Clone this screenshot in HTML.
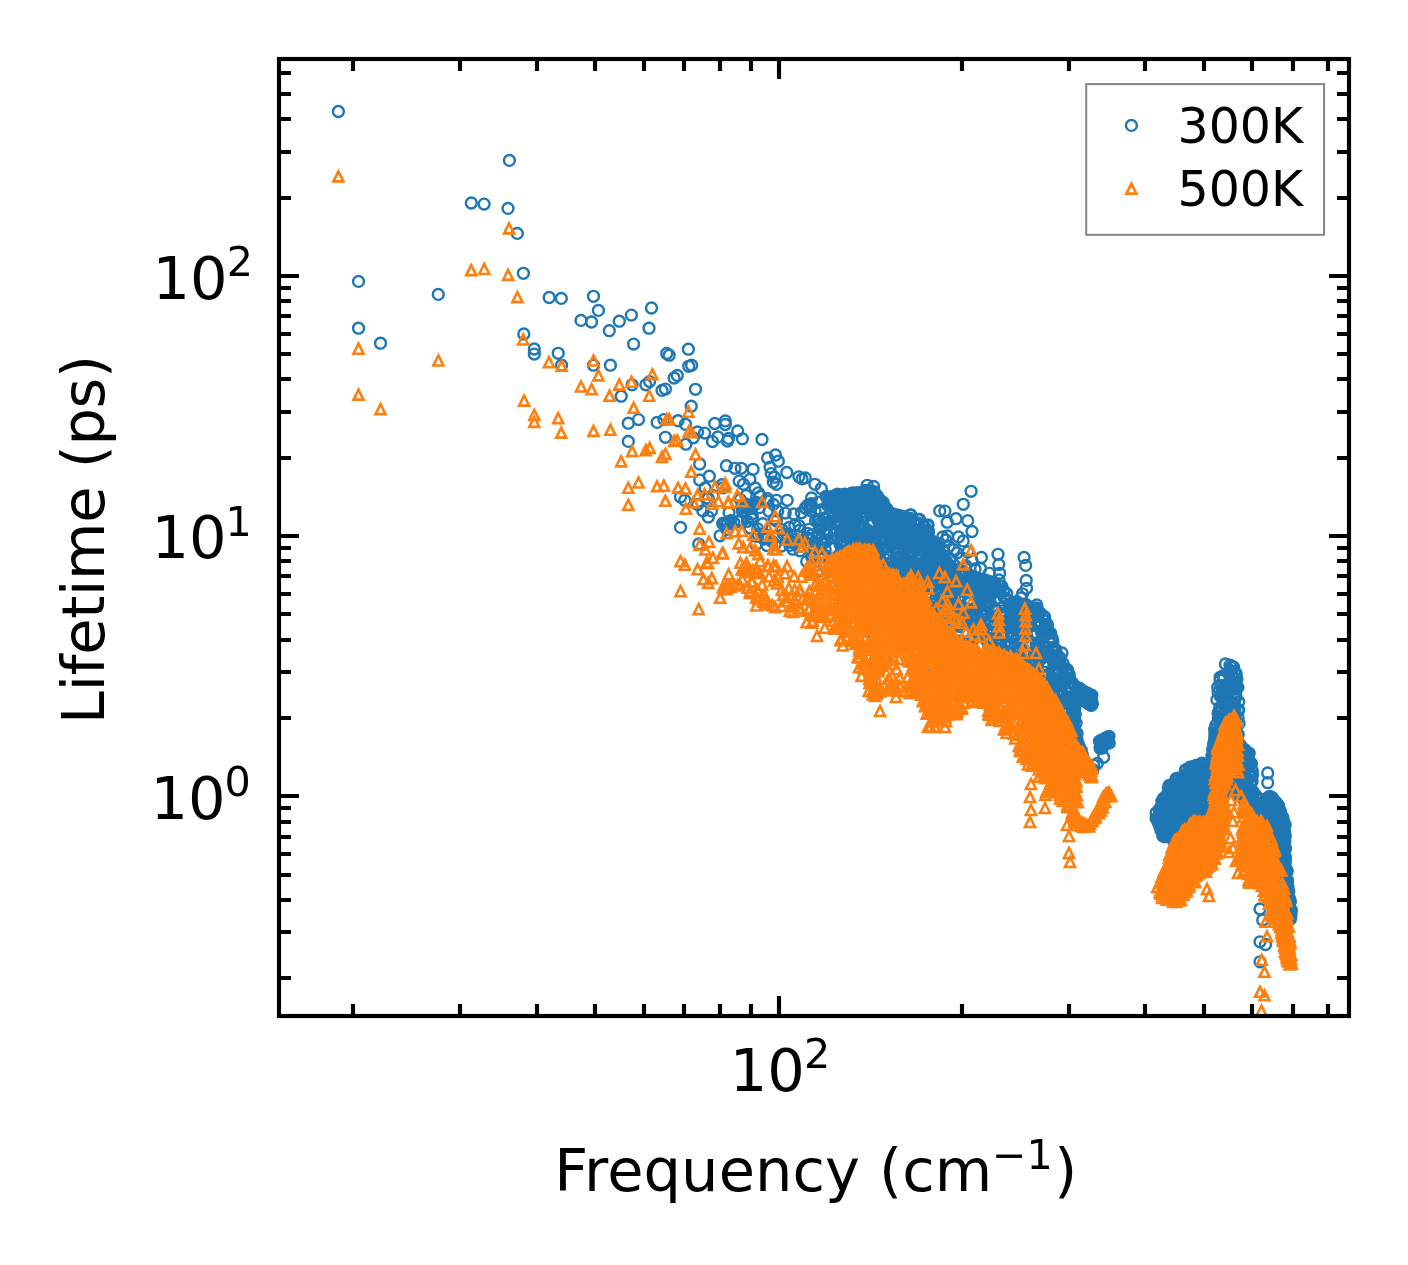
<!DOCTYPE html>
<html lang="en"><head><meta charset="utf-8"><title>Phonon lifetime vs frequency</title>
<style>html,body{margin:0;padding:0;background:#fff}svg{display:block}text{font-family:"DejaVu Sans", "Liberation Sans", sans-serif;fill:#000}</style></head><body>
<svg width="1408" height="1265" viewBox="0 0 1408 1265">
<rect width="1408" height="1265" fill="#fff"/>
<defs><clipPath id="ax"><rect x="279.0" y="59.0" width="1070.0" height="957.0"/></clipPath></defs>
<defs><marker id="mc" markerUnits="userSpaceOnUse" markerWidth="20" markerHeight="20" refX="10" refY="10" overflow="visible"><circle cx="10" cy="10" r="5.45" fill="none" stroke="#1f77b4" stroke-width="2.4"/></marker><marker id="mt" markerUnits="userSpaceOnUse" markerWidth="20" markerHeight="20" refX="10" refY="10" overflow="visible"><path d="M10 5.0L5.0 15.0H15.0Z" fill="none" stroke="#ff7f0e" stroke-width="2.6" stroke-linejoin="miter"/></marker></defs>
<g clip-path="url(#ax)" fill="none" stroke="none">
<polyline marker-start="url(#mc)" marker-mid="url(#mc)" marker-end="url(#mc)" points="338.4,111.5 509.4,160.4 471.3,203 484.1,204.1 508,208.4 517.3,233.4 523.4,273.3 358.5,281.4 438.3,294.4 549.2,297.5 561.3,298.4 593.5,296.3 598.4,310.4 581,320.4 591.5,322 619.3,321.2 631.4,315.1 651.5,308 358.5,328.2 523.8,334 609.3,330.7 649,328.2 380.5,343.2 534.3,349 534.3,354.1 558.2,353.3 561.6,365.2 633.6,344.1 593.5,365.2 610.4,365.2 666.7,353.5 669.2,355.2 688.4,349.2 688.7,366.3 691.6,365.2 674.1,378 677.3,375.5 632.1,384.8 645.8,384.8 649.6,381.6 662,390.4 665.4,389.1 621.2,396.2 695.5,389.3 691.2,406.2 628.3,423.2 638.5,419.6 657.1,422.4 663.9,419.6 678,420.7 685.5,424.3 628.3,441.4 665.4,437.3 685.9,444.2 693.3,437.8 697.6,432 699.7,464 699.7,480 680.5,497.1 684.8,500.3 697.6,504.5 680.5,527.4 698.7,544 704.6,433.1 714.7,423.5 725.3,420.9 725.3,424.5 737.7,430.9 742.4,438.8 728.5,438.4 727.5,441 717.9,436.9 712.5,441.6 762,439.5 775.5,455 767.6,458 778.3,461.2 770.1,467.2 786.8,472.5 771.2,473.6 774.4,477.2 773.3,482.1 776.5,484.3 726.4,465.7 734.9,468.3 741.3,468.3 753.1,469.3 709.3,476.2 722.1,484.7 739.2,481.1 749.9,479.4 743.5,484.3 755.2,487.9 758.4,492.8 705.1,487.9 702.9,510.9 711.5,510.9 756.3,502.4 768,501.3 776.5,500.3 787.2,500.3 742.4,510.9 752,514.1 759.5,507.7 726.4,524.8 733.9,522.7 738.1,521.6 749.9,528 762.7,523.7 798.9,476.8 802.1,478.9 805.3,477.9 814.9,484.3 821.3,488.5 867.2,485.3 873.6,486.4 883.2,502.4 911,515.2 919.5,519.5 928,524.8 925.9,537.6 936.5,542.9 939.7,510.9 944.9,511.1 963.3,504.3 971.1,491.3 967.7,520.7 972,531.5 956,518.7 947.2,522.2 910.3,514.8 918.2,519.5 927.7,525.8 926.1,537.7 942.7,537 947.4,536 945.8,540 958.5,537 963.2,540.9 949,546.4 953.8,549.6 957,553 962,558 968,552 972,560 944,552 950,559 966,566 975,569 981.4,557.5 980.6,568.5 989.3,573.3 998,554.3 998.8,564.6 999.6,573.3 999,580 1024.1,557.5 1025.7,565.4 1026.2,580.4 1026.5,588.3 1022.5,593.8 1017,601.7 1021,598 1036.8,604.9 1039,612 1062,653 1044.8,634.8 986,615.3 912.9,538.4 960.4,572.6 900.7,579.7 802.5,536.9 907.3,547.6 878.3,576.9 925.1,541.1 792.9,549.2 979.1,606.5 895.4,612.7 997.2,638.2 1015.9,602.7 864.2,492.9 1025.7,611.8 1017.9,616 889,512.3 842.7,498.3 867.3,542.6 897.8,626.9 881.7,601.2 840.5,522.3 938.9,607.7 909.4,555.4 910.5,520.8 973.7,624.4 896.5,597 888.1,594.1 850,529.3 824.6,566.3 1057.6,662.5 869.2,492.9 870.1,501.3 1003.7,591.6 948.5,571.2 939.8,651.7 999.8,642 758.2,534.4 1011,631.2 849.2,503.2 872.9,628.1 984.3,611.4 1037.9,695.7 844.9,494.1 1049.4,713.2 899.8,539.9 982.8,594.8 886,553.5 943.9,605.4 931.7,610.7 781.5,546.1 986.3,583.5 906.3,525.5 941.7,565.9 875.6,545.4 764.8,534.2 1016.3,616.8 850.8,532.5 982.1,591.3 966.8,608.5 936.2,603.2 1067.3,713.2 1050.5,638.1 911.6,580.1 878.4,516.5 909.7,540.2 841.1,511 965.1,610.7 757.7,528.9 887.3,563.4 888.3,512.9 874.5,549.5 1011,616.4 1046.1,691.6 851.6,516.3 747.1,506.1 1069.5,678.5 930.5,573.1 1027.8,645.1 842.4,500.3 814.6,547.8 972.4,578 892.7,561.3 969.5,603 887.5,526.1 776.4,521.1 964.9,579.3 842.6,543 977.6,597.1 879,599.9 1052.9,641.6 1055.9,721.2 1018.5,609.7 1066.1,721.1 853.8,495.2 902.1,560.1 783.4,533.9 932.2,576.3 844.2,551.1 1022.5,621.6 1054.9,661.5 868.3,497.6 892,515.5 851.6,493.1 855.7,582 1056.2,658.8 989.4,604.1 899.8,538.5 867,494 1051.8,679.4 863.6,556.9 909.9,622.5 994.9,600.8 848.6,502.9 851.6,522.3 880.6,591.9 977.4,609.1 940.9,629.4 948.5,574.6 883.2,612.3 918.5,553.1 844,518.9 948.5,579.2 930.1,664.9 1049.2,632.7 1023.7,670.6 868,493.7 964.9,621.1 843.5,494.4 877.6,594.7 885.1,600.9 752.9,505.9 963,571.5 903.2,521.6 891.2,544.9 933.4,635.6 983.2,589.8 1055.5,664 755.9,544.8 924.1,621.6 835.4,499 844,513.2 890.1,557.1 879,499.4 908.4,518.3 948.4,584.1 891.6,537.3 879.9,527.8 1054.9,717.6 899.2,515.3 1011.6,623.2 938.1,606.9 1023.8,635.2 914.8,522.7 810,504.9 1057.3,684.6 789.1,527.4 938.4,563.4 1015.4,628 839.8,504.1 889,588.9 895.2,626.3 1019.5,651 1035.9,632.8 944.8,583.8 983.3,585.5 896.2,531.9 1025.8,693.7 841.9,495.5 1066.7,707.8 947.5,605.9 865.3,490.3 1039.3,623.9 893.8,597.6 1018.9,681.7 1042.8,615.7 871.8,547.6 1001.3,634.4 1058.6,699.8 852.5,523.6 1059.9,692.8 890,515.9 852.3,495.9 992.1,592.6 914.7,626.8 892.1,570.1 913,546.9 847.3,537.9 1068.4,747.2 926,621.2 1042,696.9 1020.3,648.2 786.7,539.6 874.3,491.6 918,522.9 980.8,630.1 949.9,628.9 890,598.2 866.3,563.8 853,514.7 1042.9,700.1 1047.5,651.2 859.4,594.5 1060.6,733.8 897.6,524.1 1052.8,688.8 1053.1,693.5 1072,718.3 1026.4,691.2 913.4,617 910,623 742.1,508.2 749.9,507.5 845.4,501.4 988.8,653.3 740.3,499.4 1050.6,710.3 840.3,553.6 838.1,508.7 845.3,529.5 911.7,576.5 1036.1,644.3 859.2,494.5 866.1,532 987,632.8 999.3,621.7 952.2,610.1 994.7,622.5 834,506.2 866.3,515.5 1029.9,616.1 1055.9,649.7 911.8,582.7 1006.7,593.5 942.6,560.1 905.8,529.9 843.8,510.9 915,564.1 894.9,514.4 723,487.8 935.6,548.8 938.4,628.5 1049.7,696.3 1044.5,616.8 1022,604.2 1039.2,713.2 1037.1,610.2 903.6,551.7 1006.1,655.2 1032.7,617 820.5,510 983.8,585.9 966.1,613 970,575.3 775,544.4 921.6,534.3 923.1,616.9 867.6,495.5 1050.7,655.3 916.8,535.7 874.5,602.6 1021.2,613.8 997.4,648.7 910.9,629.4 840.2,559.1 1034,616.1 853,559.9 987.8,630.1 839.3,503 935.5,561.7 883.1,521.6 949.3,570.5 858.1,583.3 875.2,547 1054.7,702.5 916.8,571 932.3,541.1 925.9,532.6 886,515.6 1031.2,663.7 884.7,521.6 850.3,515.2 1052.7,716.3 1038.8,707.6 1002.5,610.8 894.3,609.2 951.6,580.3 837.4,494.2 989.5,591.1 851.5,505.3 822.9,542.8 1059.6,657.9 909.6,545.1 910.5,518.4 1024.8,605.4 912.7,601.5 867.3,533.7 937.7,605.7 841.8,535.6 973.5,577.9 1067.1,726.9 928.9,645.9 857.5,563.8 1069.1,674.6 854.2,526.3 1045.7,630.1 1018.9,683.4 969.2,575.3 1026.3,617.9 1069.9,699.4 854.9,522 940.4,621.7 864.8,538.6 818.2,502.3 937.1,554.4 879.8,527.3 876.2,507.8 886.8,546.7 1062.7,667.8 861,494 916.2,577.8 935.3,614.7 949.4,603.8 751.9,518.9 864.3,562.8 974.5,619.7 868.2,490.4 1038.4,673.2 1022.9,662.2 942.6,559.2 765.9,538.5 959,641.2 1007.3,599.4 1038.8,622.9 1067.2,669.5 1037.1,678.1 930.8,582.6 870.2,514 855.9,516.3 853.2,537 927.4,551.6 895.2,621.7 1059.9,735 859,587.4 896.3,517.5 1062.4,667.9 853.5,509 1017.4,634.8 845,516.6 965.2,588.9 880.1,593.2 1034.4,653.9 1000.6,613.4 903.1,601.6 885.9,517 865.2,561.5 918.1,560.7 910.4,558 1070,719.6 1064.5,683.6 856,499.5 872.2,581.6 870.4,543 873.2,607.6 1026.7,698.7 864.6,502.6 886.8,531.1 878.9,586.9 844.4,506.9 1029,680.5 1060.5,678.3 811.9,555.6 881.4,504.5 1050.2,654.1 933.3,553.5 1056.8,716.6 999.3,585.6 898.1,608.8 1018.3,617.2 903.5,520.4 706.7,498.1 1020.9,610.7 919.6,560.2 853.5,492.9 899.9,599.9 868.9,491.2 946.4,585.9 856,542.4 929,549.9 744.7,503.7 844.5,541.4 990.1,643.6 1044.2,628.2 918.6,554.4 897.8,557.5 1017,672.5 909.5,532.5 879.7,533 874.9,537.4 867.9,492.3 878.3,499.1 760.4,496.2 880.2,624.9 935.1,661.9 871.9,504.8 1012.2,634.3 834.4,534.4 834.9,507.3 850.2,536.4 849.7,496 1000.8,625.9 1033.2,692.9 992.9,638.1 938.3,573.4 920.9,556.2 856.2,565.6 1038,616.1 846.2,502 1070.1,697.4 1024.5,626.2 829,499.8 1035.9,673.2 944.8,565.9 845.6,572.9 769.1,511.2 939.6,554.1 975.4,637.8 885.4,599.4 856.6,493.7 975.8,583.8 993.4,584.7 852.2,507.2 850.1,497.1 899.5,517.8 932.8,557.7 807.7,533.3 992.7,587.2 944.1,560.3 864.6,528.1 1047.1,633.3 1038.6,620.7 909.2,535.4 864.9,511.8 1030.9,645.9 1032.3,644.7 979.7,601 868.3,530.5 894.5,524.3 1064.8,739.3 937.9,562.8 899.3,530.1 926.1,603.8 1043.9,675.9 1059.9,692.1 877,626.7 999.3,589.6 982.8,588.2 914.7,623.3 873.2,541 916,524.9 986.9,590.4 814,551.5 815.5,520.8 970.8,583.9 988.2,582.9 1048.3,674.6 839.9,534.8 912.6,608.5 856.4,579.4 1032.2,614 876.3,554.8 881.7,540.9 935.4,569.6 849.1,503.2 1041.2,658.9 1064,695.1 922.8,550.3 1075.1,686.5 890.6,609.9 983.6,588.5 941.9,556.1 1032.8,608.8 900.6,532.6 740.1,520.2 896.8,516.6 773.3,504.4 906.9,543.6 793.7,543.2 1066.9,732.4 885.4,568.6 881.4,600.2 891.8,528 942.4,603.1 1006.8,621.9 1042.3,636.3 887.9,512.7 1034.9,659.6 889.7,593.5 980.2,593.5 935,655.1 915.6,534.7 1063.2,683.7 907.2,588.4 980.9,635.4 946.4,571.4 926.7,534.5 940.2,576 921.6,535.7 845.1,563.3 967.8,585.4 827.6,505.3 800.4,546.3 1015.2,612.5 767.7,498.7 874.1,597.5 944.7,583.3 945.8,650.2 832.4,518.6 882.6,577.4 946,662 934.2,552.8 851.1,580.6 927.9,534.2 866.6,503.1 1053,704.7 801.4,512.7 915.2,587.5 883.7,520.9 1054.4,701.4 1028.8,664.5 1063.9,712.3 944.3,617.7 861.5,525.9 934.4,613.8 1072.6,699.7 847.7,563.1 899.1,623.3 794.6,539.7 993.9,584.6 929.4,571.5 884.8,507.4 955.7,584.7 1072.5,683 904.9,573.7 839.6,559.5 1016.6,606.2 826.1,496.3 864.2,579.7 875,576.7 978.5,607.5 875.8,513.3 1014.1,672.4 957.9,643 919.3,595.5 918.9,625 987.1,602.4 905.7,581.2 1067.9,693.5 809.1,547.7 960.3,614.3 1022.8,628.3 944.7,567.6 940.6,606.9 880.6,500.4 911.4,563.1 896.5,572.2 903.3,548.2 867,537 869.3,500.4 913.6,572.1 931.5,547 944.2,616.5 1038.3,626.4 931.2,552.2 856.7,555.3 980.7,634.6 928,631.2 929.4,662.2 1011.9,620.1 942,642.8 767,545.6 873.4,535.9 913.3,551.8 947.6,589.5 1047.8,651.7 885.9,541.5 972.9,581.2 827.2,534.3 1042.5,705.6 1068.5,735.9 1044,616.6 977,582.9 1046.3,631.9 825.1,524.4 909.8,520.8 946.2,562.2 919.4,564.7 875,579 905.4,575.7 918.4,537.3 840.6,532.2 819.9,529.3 883.6,517 950.3,607.6 996.1,615.9 829.6,499.5 943.8,559.4 947,574 810.4,510.6 794.9,525.2 953.6,617.2 1038.9,658.4 859.9,534.2 908,557.2 971.1,626.1 880.2,630.8 899.8,570.8 905.7,544.9 831.9,496.9 895.1,530.4 917.7,623.4 885.4,516.4 913.8,536.2 846.7,550.7 1002.8,649.4 849.7,503.9 985,581.6 881.7,528 1019.9,605.6 879.8,561.4 726.7,529.4 1017.7,604.4 909.2,631.9 840.8,574.9 834.3,522.5 918.3,579.7 1038.5,612.3 1045.1,621 861.2,501.1 936.8,562.3 923.2,526.8 885.3,508.7 848.9,539.1 785.2,513.1 1039.6,612.6 895.8,516.2 893.5,517.8 849.9,517.6 827.6,540 1043.5,616.9 980.8,614 1007.6,660.8 922.3,580 852.1,527.3 934.2,563.4 930.2,558.3 930.6,611.8 885.7,595.2 973,610.3 950.6,565.9 976.1,623.5 855.5,518.8 994.9,650.2 837.7,499.5 873.2,504.2 967.5,586.5 987.2,641.3 1036.4,609 912.1,572.6 997,644.9 867,530.4 1046,625 811.2,507 799.8,530.2 966.3,619.1 881.5,514.9 1046.8,624.6 1030.3,617.3 1054.5,684.2 1011.7,606.2 977.8,606.8 906.9,559.9 936,633 1077.1,733.4 928.5,530.9 868.9,494.4 864.6,495.1 1042.9,703.6 918.1,575.8 908,560.7 828.9,521.7 862.8,522.7 1046.3,727.2 991.5,593 891,617.3 878.3,553.9 996.1,591.9 1053.1,650 1074.7,719.7 934.5,590.7 1044.5,699.9 811.5,497.9 912,581.9 904.6,560.1 859.2,500.4 891.6,523 895.8,601 989.3,604.3 1011.5,656.5 870.2,607.4 1074.6,749.6 750,527.9 1031.7,701.2 960.2,626.5 899.4,539.6 956.5,582.1 970.1,625.1 917.6,612.4 1009.8,608.9 832,505.9 858.9,557.6 888.7,533.8 875.1,500.6 1045.4,635.2 990.1,601.7 861.1,536 896.3,570.6 924.2,526.3 893.6,592.9 821.8,542.3 944,603.6 945.8,655.2 870.8,534.1 939.1,658.9 846.8,525.7 1053.5,648.3 851.6,513.2 993,589.6 829.8,497.5 994.4,585.4 905.4,596.9 962.4,619.7 857,573.3 860.6,492.6 962,595.5 923.8,526.4 896.2,602.9 876.4,633.4 949.8,610.4 872.5,616.5 855,544 868.8,627.8 1020.6,686.4 862.6,603.2 1029.7,620.8 827.4,523.3 1022.9,613.4 961.6,579.8 1044.9,651.8 899.2,618.2 931.1,561.7 864.2,495 887.8,511.2 896.6,529.4 864.3,535.6 928,532.9 946.1,645.9 1007.1,623.4 874.7,572 873.6,597.7 1014.1,609.2 903.4,538.6 1050.2,708.3 1074.6,708.8 902,563.7 908.6,626.3 878.1,594.2 1016.8,613.8 1014.6,647.6 854.6,520.9 1062,728.1 791.4,536.1 904.6,527.9 837.8,500.9 913.1,545.7 857.5,557.3 743.9,506.7 862.2,583.9 1060.9,680.9 1052.2,638.5 949.4,574.3 1066.1,670.3 1042.7,706.2 825.3,555.7 930,641.9 962,646.7 876.2,566.5 878.4,521 928,646.1 970.1,575.4 956.2,569.6 873.8,538.4 909,577.6 908.4,596.3 940,598.2 956,593.8 935.6,546.9 856.1,508.3 871.7,500.4 986,595.4 858.8,552.6 862,507.9 866.4,561 990.6,585.3 877.8,499.2 950.4,598.4 906.7,521.9 1020.7,632.9 921.6,570.4 811.9,534.8 993,584.4 923.3,546.4 933.6,608.1 876.9,575 987,580.8 1036.3,651 878.7,609.1 812.6,558 997.1,648.1 925.8,641.8 815,511.2 967.3,633.3 928.6,630.3 981.6,626.2 724.5,523.3 997.2,649.8 863,536 958,586.1 834.4,530.2 1035.2,661.9 843.8,544.1 1035,665 1058.4,673 1007.1,645.3 1004.7,613.6 925.3,641.6 860.4,587.1 1030.3,622.5 964.2,589.7 1060.7,685.1 840.9,509.8 959.7,598.7 868.5,506.8 963.6,616.6 984.7,579.8 1017.2,611.4 834.1,565.8 846.9,580.2 868.9,499 1050,688.6 1063,663.5 982.2,595.1 880.7,531.9 1054.3,722.6 953.2,569.9 1028.1,703.1 994.5,583.5 1047.6,666.5 850.3,542.9 1056.4,658.9 939.1,649.5 939.6,558.6 924.2,534.1 909.9,629.3 870.4,492.1 836.6,523.1 935.2,599.7 894.6,540.8 856.7,540.6 904.1,578.6 886,527.7 968.3,578.2 974.6,578 909,547.4 908.5,520.2 983.6,615.3 741.9,505.6 1003.6,590.7 1065.7,669.8 906.3,520.2 1047.4,627.3 820.2,556.3 864.5,505 914,569.2 878.5,577.7 1000.7,652 1057,700.8 1057.8,706.7 903.9,517.7 869,617.6 825.3,542 881.4,518 915.4,601.7 991.2,657.8 730.6,520.7 917.5,544.1 1045.4,651.4 842.8,561.6 988.2,649.7 984.9,598.6 1051.8,677 1042.9,702.5 911.1,542.5 713,495.7 913,563.9 1005,612.9 978.9,579.2 956.3,603.5 835.1,567.8 868,536 1033.8,660.7 838.7,504.6 1051.4,637.1 805.3,508 877.5,563.8 889.7,512.3 820.9,528.6 941,569.4 1045.8,695.7 886.6,508.5 864.2,516.4 1014.3,620.1 943.8,649.5 897.6,558.8 864.9,542.3 946.9,612 918.5,525.4 989.4,649 1057.9,663.1 885.5,545.7 908.3,544.8 1036.3,648.4 902.3,563.1 937.1,571 998.4,590.5 899.1,600.6 994.6,588.4 892.5,551.3 891.6,520.5 1021,658 916.1,612.2 1015.6,653.1 1042.6,693.7 1067.7,702.7 1022.4,681 922.7,618.9 916,549 927.6,583.2 789.9,545.4 800,550.8 886.7,627 963.5,584.5 841.4,562.2 1055,728.4 817.9,521.2 886.6,617.9 856.7,514.8 860,563.1 1046,661.7 931,636.4 966.1,608.3 934.7,546.1 947.7,640.9 1006.7,670 876.3,601.6 859.6,492.7 805.9,508.3 1016.1,628.7 865.1,578.8 1056.5,680 939.5,594.4 929.2,568 859.4,495.6 1026.9,628.2 860.8,493 782.2,529.8 1050.7,693 907.8,562.5 774.1,519.1 1051.5,650.6 881.1,508 1017.2,605.1 870.4,539.2 808.4,538.2 938.5,570.4 871.9,632.8 933.6,610.3 927.8,639.6 859.6,526.7 855.1,520.1 936.2,639.4 965.5,579.7 890.9,600.4 859,510.4 994.1,585.6 914.7,605.8 971.3,623.5 880.4,517.4 934.4,644.7 876.8,507.9 822.6,557.6 910.4,569.1 839.2,505.1 932.9,543.1 962.8,579.5 862.5,556.4 943.2,574.3 1022.3,636.5 1053.9,655.8 916.9,602.4 886.5,586.7 1015,645.4 952.1,638.2 1038.2,625.7 720.1,535.8 964.3,641.6 857.8,509.1 862,593.3 930.6,564.1 989.6,596.3 885,513.5 945.9,560.4 853.4,577 1069.4,686.5 947.8,616.7 747.5,521.3 809.4,547.3 956,607.8 888.6,514 987.2,624 842.6,578.2 746.2,495.6 919,582.7 929.3,541.9 944,583 878.2,592.1 878.2,546.1 807.4,505.5 972.6,637 833.2,561.3 972.9,609.8 809.7,538.3 876.4,579.6 943.4,564.8 1038.1,656.6 976.3,606.8 914.2,576.8 828.4,500.3 841.8,542.8 854.7,559 1003.5,651.4 842.3,551.9 874,613.7 842.7,585.9 880.6,513 1028.5,619.8 1055.5,679.2 925.9,575.8 992.5,582.1 955,587.4 819.8,523.5 921.9,544.5 892.4,542.2 822,542.6 855.1,506.3 978.4,634.4 1015.2,616.7 925.9,612.9 826.9,497.7 851.8,499.4 987,604.2 924.4,572.9 859.1,497.4 956.7,649.7 864,535.5 867.1,492.8 1070.4,724.2 833,507.5 1072.4,697.6 992.1,652.9 1049.3,688.3 873.3,492.6 890,540.1 920.3,532.1 1043.6,666 1061.7,693.9 864.4,492.2 883.7,549.4 1038.7,680.7 931.2,559.1 857.1,492.8 878.5,500.1 777.7,511.1 1035.1,610 975.2,582 948.8,574.1 906.7,526 1026.8,635.6 763.6,536.9 844.3,563.1 1001.7,586.2 909.2,601.3 988.3,624.9 956.7,585.6 1029.7,609.9 1034.5,680.8 925.3,579.7 993.8,584.6 858.5,576.2 882.5,531.9 1011.5,644 824.7,517.8 917.5,543.9 899,589.7 924.2,584.2 867.4,508.8 912.7,593.5 899.1,526 885.7,542 869.8,624.7 1043.4,665.3 978.6,604.3 811.9,557.8 1020.8,625.8 865.9,551.4 840.6,496 958.6,597.2 847.8,514.3 763.9,539.1 837.4,509.1 930.8,582.6 1037.1,647.2 944.5,620.2 1049.2,642.3 888.3,556.3 826.1,519.3 843.7,531.4 1059.9,657.7 893,514.3 727.6,522.1 926,596.6 897,579.2 964.6,616.7 834.4,506.7 929.2,628.2 1005.9,660 1055.8,664.6 892,585.7 928.9,628.9 915.1,523.9 1067.8,672.6 905.7,525.4 859.5,589 1049.7,722.3 941.2,555.4 806.7,561.6 891.8,620.5 902.6,516.7 1016.2,651.7 947.1,598.7 988.9,584 894.1,536.3 939.6,556.8 901.3,521.8 1009.2,604.3 831.2,548 895.2,595.1 932.7,629.9 880.4,504.5 887,553 946.3,562.3 956.8,623.8 887.2,509.7 952.4,573.9 817.6,536.4 913.4,591.3 1030.8,625.8 857.6,547.8 928,570.5 876.2,500.6 1006.4,664.6 1039.8,680.8 1064.5,738.6 837.5,496.4 845.6,536.4 1060.4,680.6 1050.2,638.9 987.2,612 852.9,506.6 994.6,608.2 1027.6,644 1035.3,653.8 1075,713.6 1039.6,645.7 1025.4,620.8 911.8,578.2 1048.7,703.5 961.2,573.7 904.4,578.1 1076.1,723.2 915.6,628.4 932.9,660.4 943,627.1 989.4,581.7 848.6,568.7 821.3,538.4 1036.6,616.2 892.3,601.2 914,585.6 854.5,546 926.4,652.4 886.7,517.2 961.1,576.1 1034.9,615.1 837.1,506.6 891,537.2 999.1,654.3 877.6,507 868.8,498.2 995,609.7 905.3,550 1006.4,652.6 1025.9,634.4 1059.9,682.6 1033.5,610.3 927,563.9 920.6,566.3 1056.2,663.1 931.9,582.4 1047.2,624.2 916.2,598.2 932.3,558.7 844.2,540.5 954.6,573.2 708.3,517.1 1011.6,637 799.1,525.7 991,620.2 914.7,544.4 831.2,499.1 911.3,529.7 965.5,579 945.4,600.5 1057.3,703.2 939.7,553 927.6,561.8 832.3,511.3 1077.5,687.9 935,562.2 892.5,542.4 1046,705.6 860,507.6 952.1,616.1 921.4,619.6 879.2,601.9 896.1,530.3 985.3,605.6 833.4,496.2 926,530.3 983.4,586.3 1026.7,605 729,512.7 708.2,498.5 872.6,582.2 948.3,641.1 1024.9,604.7 959.7,624 943.6,627.6 876.3,546.6 871.8,515 950.7,573.1 840,544.3 922.3,531.6 1067.3,670.3 983.5,633.6 1003,607 873.6,559 935.6,569.4 919.8,627.6 846.5,545.9 874.6,564.1 933.1,627.6 821.6,525.1 1026,623.1 1044.4,686.3 936.1,647.8 834.3,505.9 1003.6,627.3 967,588.8 912.3,622.5 877.2,508.3 756.4,536.4 886.8,532.5 1060,664.7 1041.2,631.4 1033.2,699.2 889.3,523 1055.4,671.9 1050.6,633.1 1062.6,669.7 982.6,634.1 1038.9,648.1 1009.3,618.6 970,578.3 854.2,555.4 937.3,633.4 831.6,497.6 854.5,544.1 937.9,561.4 870.3,555.5 984.1,612.5 912.6,599.1 882,598 1051.5,725.8 977.6,578.4 1004.3,597.7 888.2,557.5 848.2,532.1 898.2,554.2 979.7,585.7 913.7,523 935.9,644 939.4,591.4 819.3,519.3 946.5,565.5 722.7,523.5 792.3,542 968.6,588 869.7,499.3 1029.9,612.2 894.8,586 944.6,580.2 865.2,491.5 912.3,570.1 930.4,613 954.2,569.8 1013.2,602.4 947.5,594.2 1036.6,685.9 969.3,589.4 847.4,504.2 1031.2,625.9 1014.9,619.9 946.1,566.7 1077.2,699.4 894.6,527.4 874.4,493 904.3,541.3 1042.8,675.5 1067.7,672.6 860.9,497.2 860.7,530.4 865.6,494.6 968.5,620.1 959.6,581.7 931.7,645.1 889.6,615.5 956.8,577.6 860.3,545.5 988.2,598.3 834.4,531 865.1,605.9 898.2,553.1 1007.7,625.7 853.6,524.2 1068.9,692.2 965,583.4 1057.1,659.5 990,590 869,499.8 892.4,616.3 938.9,583.2 958.6,600.5 1036.4,608 1018.7,607.7 863.2,515.8 951.9,607.1 1060.1,659.3 938.3,555.8 883.9,532.8 1009.4,645.9 907.4,533.6 918.5,612.8 1006.2,614.4 903.2,542.1 885,547.4 752.6,506.7 837.9,516.8 871.3,497.2 866.2,498.9 1057.1,691.4 876.3,516.8 1012.2,628 752.4,517 985.6,587 886,513.3 977.8,589.2 990.8,621.5 975,617.7 756,503.7 930.1,542.3 986.4,585.4 934.8,655.5 972.6,588.2 786.8,534.5 924.1,616.2 1055.2,652.5 912,570.1 771.9,541.2 879.3,552.2 1028.7,655.9 948.1,573.2 901.7,544.7 931.3,560.3 825.2,549.6 861.5,493.9 1070.5,729.4 871.1,605.4 1037.8,616.1 909.7,566.9 904.8,606.7 1028.3,688.9 942.5,636.2 950.1,569.1 937.6,617 877.9,583.4 985.6,619.2 946.9,587.8 873.3,512.5 938.2,559.5 809.2,529.3 949.3,566.4 877.5,496.2 1021.8,607.6 937,621.6 973.9,590.4 835.3,496.8 888.1,516.6 1022.7,671.5 866.5,493.3 953.6,649.1 922,565.7 1069.1,675.1 892,514.4 1000.9,586.5 921.3,589.4 951,648.4 868.1,505.6 973.1,588.1 811.1,503.7 1003.4,633 922.8,531.5 1022.8,694.1 954.3,590.3 942.6,590.7 899.4,557 850.7,495.1 884.3,623.6 929.7,588.5 793.8,514 859.3,496.7 1056.8,662.6 953.1,582.2 860.9,494.7 910,578.8 983.9,580.4 1031,720 1030,733 1031,746 1030,758 1045.5,731 1045,744 1069,772 1069,789 1070,798 1067,761 817,572 880,647 896,633 928,663 945,663 1063,737 1085,694.7 1086.3,702.2 1088.8,700.9 1079,699.1 1090.9,705.2 1085.8,693.8 1088.4,703.7 1088.8,703.3 1080.7,696.6 1079.9,695.2 1089.7,704.2 1082.5,698 1078.1,693.5 1085.3,700.2 1088.2,698.7 1092.4,703.8 1081.5,692.1 1090.4,700.9 1078.1,689.8 1079.8,695.6 1084.7,697.9 1083.6,694.9 1090.3,697 1079.3,691.1 1091.1,695.5 1086.4,696.3 1091.5,701.1 1088.3,696 1082,694.3 1087.6,693.2 1090.6,701.8 1086.9,695.5 1081.8,695.5 1083.2,692.8 1085.6,699.2 1082.1,699 1087.6,697.7 1085.2,700.8 1079.5,688.2 1090.6,697.9 1081.1,699.7 1085.8,697 1083.7,700.6 1085.5,693.3 1087,693.1 1084,693.5 1082,691.9 1080.6,691 1085.6,699.7 1079.5,693.2 1091.5,705.1 1080.9,692.5 1091.8,695.2 1078.2,693.3 1080.6,692.3 1086.1,693.8 1088.9,698.2 1089.5,703.5 1088.1,697.5 1078,698.6 1086.8,695.4 1083.5,691.2 1083.3,699.8 1088.1,697.3 1091.6,704.9 1083,691.6 1089.6,703.2 1084.4,697.1 1081.9,699.3 1082.5,692.3 1071.2,735.9 1073.4,718.7 1074.6,716.9 1073,706.2 1067.2,723.7 1069.5,735.3 1073.2,729.6 1074.3,704.6 1072.4,736 1068.3,718.8 1073.7,710.5 1072.1,703.8 1067.5,725.4 1069.5,700.2 1067.9,699.4 1069.4,723.9 1067.5,700.1 1068.2,701.2 1072.8,738 1072.8,717.3 1073.7,727.1 1068,718.6 1074.1,718.9 1070,721.6 1072,702.2 1073.4,720.1 1070.1,716.4 1074.9,732 1070.9,721.4 1067.7,723.8 1072.5,723.9 1068.9,712.8 1067.7,712.1 1072.7,708.6 1074.1,710.5 1072.3,737.7 1071.6,732.1 1074.8,708.4 1075.1,714.4 1072.5,711.3 1077,739 1076.5,741.7 1078.6,744.8 1077.8,744 1079.4,746.9 1081.2,750.1 1080.8,752.8 1082,754.3 1082.1,755.4 1081.4,756.6 1084,759.6 1085.2,764 1085.6,765 1088,767.8 1088.1,767.9 1090.2,770 1091.3,770.1 1092.8,769.7 1093.7,765.3 1097.3,763.5 1100.1,748.2 1099.5,741.3 1101.2,746.9 1101.2,742.6 1100.5,746.6 1101,740.5 1101.1,743.8 1102.7,742.7 1102.3,748 1103.8,744.5 1104.7,743.7 1103.4,745.5 1103.4,741.8 1103.4,741.3 1105.7,738.8 1104.9,740.7 1105.4,739.9 1107.5,741.6 1105.2,738.2 1107.1,739.5 1106.2,741.3 1108.3,737.4 1109,736.3 1109.2,743.1 1103.6,757.3 1269.3,858.6 1229.9,763.8 1195.7,809.3 1266.1,831 1197.5,798.2 1243.7,798.1 1190.6,833.9 1202.6,780.5 1278,821.3 1184.2,802.1 1255,817.4 1215.6,746.3 1221.9,758.8 1268.4,817.7 1185.8,770.3 1190.5,818.8 1164.8,818 1240.4,764.7 1284.5,880.7 1277.5,868.4 1255.8,811.8 1215.3,781 1264.4,841.2 1189.2,768.9 1171.5,808.3 1282.9,831.2 1161.9,827.2 1204.6,808.9 1191.3,794.2 1173.8,793.2 1226.3,786.2 1218.4,752.3 1185,775.2 1194.7,795.7 1227.3,722 1200.3,811.2 1219.7,744 1277.2,859.4 1285.1,847.6 1230.7,735.7 1277.2,877.9 1171.2,834 1223.7,780 1214.8,737.3 1226.8,768.7 1197.2,810.4 1262.4,821.1 1170.2,818.6 1254.2,810.2 1270.2,825.2 1234.3,767.8 1224.6,757.7 1219.8,707.4 1217.9,779.4 1174.3,805.3 1184.5,812.2 1267.3,825.3 1263.2,816.6 1238.7,701.8 1274,800.2 1181.9,797.7 1255,819.7 1236.6,735 1276.8,854.6 1251.2,797.4 1214,764.2 1212.9,787.5 1280.9,824.3 1275.8,811.1 1180.9,796.4 1199.6,824.6 1221.9,772.2 1204.6,776.5 1266.1,836.3 1278.1,819.6 1284.4,887.1 1254.9,804 1191.2,812.9 1280.5,846.4 1199.6,768.8 1166.2,836.1 1274,841.1 1225.6,786.2 1254.1,817.4 1273.2,860.5 1217.3,782.2 1271.8,835.2 1197.6,781.1 1241.3,793.6 1225.5,777.7 1189.5,779.1 1239,770.3 1197.8,803.4 1212.9,761.1 1236.2,673.7 1234.3,703.8 1228.9,725.2 1216.4,733.4 1238.6,785.1 1235.7,784.3 1240.1,771 1276.4,858.2 1267.6,852.9 1274.1,832.9 1166.3,831.1 1171.7,826.3 1198.2,779.6 1168.7,812.2 1215.2,789.5 1171.6,789 1215.2,779.8 1218,769.8 1185.4,770 1236.1,689.2 1237.4,779.8 1171.7,808.6 1156.1,818.4 1282.1,880.4 1183.8,778 1226.3,779.2 1232.7,711.2 1211.9,756.2 1165.3,829.9 1235.4,745.1 1206.7,790.8 1221.4,751.4 1273.9,854.8 1264.9,851.2 1243.6,788.2 1245.2,800.5 1228.6,684.3 1258.3,808.6 1199.9,767.6 1215.2,776.4 1277.1,854.3 1216.9,699.8 1274.3,837.7 1156.2,812.8 1228.8,780.8 1239.6,787.4 1251,797.6 1211,783 1198.8,828.9 1239.6,763.3 1169.1,808.6 1235.8,694.8 1246,802.8 1240.6,751.1 1279.9,858.1 1267.7,823.6 1275.9,833.3 1246.1,793.2 1176,825 1216.3,728.7 1194.4,797.1 1230,720.8 1237.9,780.7 1230.5,773.5 1251.4,769.5 1231,747.5 1282.1,848.5 1234.7,746.4 1191.4,779.6 1169.2,798.3 1220.2,765 1168.4,835.5 1190.4,803.7 1201.7,790.7 1235.1,774.9 1281,872 1186.6,787.1 1283.3,835.1 1265.6,833.1 1226.2,684.8 1232.3,751.1 1196.2,803.7 1162,803.9 1178.3,795 1258.3,827.5 1269.8,848.5 1184.5,795.1 1231.4,781.2 1280.1,862.6 1222.3,726.1 1174.2,837.5 1228.9,779.5 1217.5,751.1 1266,845.5 1250.6,812.6 1278.8,826.8 1266.6,847.9 1177.9,825.6 1158.1,822.4 1219.8,712.3 1202.4,764.1 1169.4,806.7 1279.6,884.7 1230,702 1288.9,903.3 1225.4,691.3 1206.4,800.7 1228.6,758.4 1207.1,775.7 1172.5,787.3 1200.8,783.3 1262.8,824.5 1220.1,680 1270.4,824.6 1271.2,818.4 1188.5,802.7 1233,677 1281.9,853.7 1195.5,776.2 1189.4,767.6 1223.1,695.4 1168.5,815 1278.7,809.9 1248.4,794.1 1228.7,690 1270.3,831 1272,816.7 1180.1,801.3 1233.4,731.2 1252.3,771.3 1195.7,780.4 1162.4,825.5 1171.5,801 1267.5,824.9 1173.2,798.7 1285.3,879 1224.9,775 1191.1,796.1 1177.9,820.6 1163.8,806.3 1205,770.3 1164.2,832.6 1232.1,677 1224.2,739.5 1272.9,809.3 1213.1,754.5 1201.2,763.7 1250,804.2 1263.3,824.8 1278.2,805.4 1236.7,753.7 1186.3,837.1 1174.4,784.8 1217.4,782.8 1251.6,795.2 1204.6,767.5 1260.1,834.5 1219.1,747.7 1233.4,705.3 1285.3,890.3 1234.4,777.3 1274.4,857.3 1275.1,832.6 1189,775.8 1170.1,786.8 1204,798.2 1276.9,874.4 1172.7,820.9 1190.3,771.7 1285.5,861.1 1183,791.7 1275.6,865.5 1185.5,776.4 1248.9,761 1169.5,808.6 1195.1,823.8 1214.5,751.4 1268.1,837.8 1199.1,768.6 1217.1,783.6 1271,836.1 1200.2,769.1 1222.6,717.8 1286.7,892 1259.8,806.2 1185.3,783.3 1240.1,758.7 1208,797.9 1265.3,827.1 1266.3,820.6 1217.7,789.8 1278.9,867.3 1281.2,891.7 1175,828.6 1240,795 1246,764.7 1186.7,796.1 1262.8,823.3 1270.3,844.3 1213.4,782 1174.8,787.7 1274.2,843.1 1275.5,845.8 1172.5,818.7 1255.8,817.8 1284.3,831.9 1277.5,883.1 1164.3,811.3 1215.2,760.4 1219.3,770.6 1199.2,821.7 1250.7,800.4 1221.9,793.5 1204.1,787.3 1269,850.9 1252.7,817.2 1261.5,837.2 1178.4,799.1 1257.2,834.2 1284,846.9 1274.4,848.1 1222.2,757.4 1200.9,766.7 1272.2,860.5 1234.5,706.7 1169.6,831.7 1194,774.6 1237.9,754.7 1191,807.4 1192.3,811.6 1272.7,855.5 1230.1,665.1 1265.9,838.4 1164.4,806.5 1226,703.9 1246.3,784.3 1275,869.9 1171.5,798.1 1178,816.1 1228.8,778.2 1199.5,770.5 1168.6,797.5 1267.2,845.5 1220.8,719.6 1187.9,804.1 1256.7,812.4 1243.9,749.9 1188.9,773.4 1274.1,819.4 1174.8,803 1217.8,687.2 1282.4,840.6 1203,768.7 1277.2,807 1170.8,794 1252.5,803.3 1240.7,757.9 1163.8,826.9 1239.5,774.9 1198.5,765.7 1209.7,770.1 1232.7,737.5 1230.5,709.8 1214.9,783.5 1192.4,777.2 1278,848.7 1265.3,839.1 1179.7,788.4 1275.6,851.9 1258.1,798.1 1232.6,757.5 1182.7,803.8 1252.7,791.2 1218.2,774.5 1181.2,829.4 1228.8,781.9 1283.7,892.6 1209,791.9 1176,778.7 1269.2,853.2 1199.8,795.5 1186.9,826.8 1169.8,834.9 1221.7,747.4 1218.4,766.6 1213.3,780.7 1214.2,797.8 1208.4,791.7 1281.2,857.6 1160.7,827.2 1234.9,766.5 1226,751.7 1266.7,811 1235.8,791.2 1247.7,758.5 1218.7,716.8 1221.3,752.8 1279.2,821 1263.8,835.5 1196.8,774.8 1261.2,827.1 1201,806.9 1267.3,814.8 1217.7,753.6 1275.3,808 1170.3,824.1 1223.9,756.2 1204,813.5 1267.1,828.9 1236.1,788.4 1225.2,776.1 1238.6,709.8 1173.5,803 1257.1,811.4 1237.5,775.6 1256.8,824 1233.6,687.2 1273.6,804.8 1244.6,779.9 1186.9,802.6 1225.5,786.3 1161.3,809.2 1226,710.8 1229.8,670.2 1255.6,795.3 1234.8,749.6 1227.2,730 1183.2,779.1 1213.9,754.6 1252.6,812.5 1206,770.7 1227.8,778.7 1236.9,758.4 1215.9,773.8 1267.2,827.1 1194.1,777.1 1166.4,799.5 1278,862.9 1266.8,824.1 1268.7,810.5 1228.3,781 1282.9,838.6 1207.6,792.9 1180.5,802.2 1192.5,768.4 1268.8,860.4 1163,799.7 1184.3,831.9 1199.1,778.1 1247.8,765.4 1218.2,773.6 1210.9,766.5 1165,822.3 1260.5,837.2 1190.1,786.5 1195.2,782.3 1229.8,761.6 1210.6,781.4 1276.3,823.7 1227.7,706.2 1251.9,815.9 1190.7,807.9 1192.1,832 1234.1,783 1163.3,827.7 1215.4,780.5 1180.5,784.4 1223.3,693.9 1212.5,778 1275.2,837.6 1167.2,824.2 1214.4,770.1 1286.4,893.4 1234.8,717.2 1205.7,799.3 1243.1,756.7 1241.2,780.6 1183,826.4 1168.8,820 1164.3,830.9 1217.5,768.7 1164.6,832.1 1282.7,820.1 1265.7,808.5 1227.3,705.7 1192.7,830.8 1223,773.3 1239.7,793.6 1185.8,779.6 1237.2,778 1287,883 1244.6,767.1 1204.7,801.6 1164.2,829.7 1236.1,779.8 1233.7,686.8 1273.3,817.7 1268.3,841.2 1240.1,785.6 1164.8,820.5 1262,803.4 1245.4,756 1286.6,883.6 1284,897.9 1251.5,763.6 1231.8,771.9 1193.1,771.2 1165.7,824.5 1265.3,800.1 1186.5,814.4 1239.8,750.5 1199.3,795 1225.6,717.6 1239.1,723.6 1251.3,775.5 1233.6,712.7 1214.2,770.6 1245.5,796.5 1190.8,767 1209.9,792 1269.2,824.5 1201.3,822.3 1237.6,753.1 1224.3,750.9 1228.9,733 1188.8,771.5 1223.5,777.9 1197.1,794.5 1164.8,829.9 1277.9,841.3 1281.7,833.2 1215.9,725.3 1178.1,778.2 1220.8,685.7 1230,770.4 1168.3,787.9 1232.5,686 1284.4,881.7 1214.9,733.3 1199.7,773.4 1237.9,687.4 1211.4,764.5 1183.7,824.4 1278.3,873.9 1262.5,823.6 1174,802.2 1260.3,836.1 1210.1,764.1 1211.7,771.4 1276,836.3 1196.1,826.2 1173.2,823.7 1164.5,836.9 1277.7,863.6 1189,782.7 1225.1,754.3 1185.5,815.9 1228.2,771.8 1171.4,828.9 1222.9,777.7 1207.2,793.8 1258.6,808.7 1204.7,767.2 1189.6,782.5 1236.8,757.2 1245.9,769.7 1194.2,772 1201,778.5 1279.9,865.4 1203.8,814.3 1263.3,801.9 1233.8,791.2 1166.4,806.4 1221.2,747.5 1234.8,755.5 1207,786 1206.7,769.8 1244.8,791.2 1257.3,817 1273.1,842.7 1195.8,793.8 1234.6,718.2 1187.6,829.6 1231.2,789.5 1272.7,814.3 1259.5,827.3 1239.4,785.3 1219.3,752.4 1255.4,817.1 1244.4,749.5 1286,883.1 1235.6,683.8 1279.1,819.1 1282.4,820.6 1190.2,802.3 1280.5,818.5 1220.4,696.4 1274.9,841.1 1238.5,795.3 1203.5,786.6 1159.2,819.2 1245,753.8 1182.2,801.4 1260,823.9 1239.9,777.8 1213.8,744.1 1256.5,830.5 1184.8,815.1 1236.1,687.9 1229.9,753.9 1277.3,818.6 1218.3,787.1 1199.4,812 1218.2,779.4 1245.7,751.2 1228.4,764.8 1266.1,836.1 1172.9,839.5 1180.8,839.4 1163,820.1 1227.9,782.9 1178.8,835.5 1285.7,887.5 1226.5,736.8 1225.9,740.6 1235.8,697.5 1159.1,809.5 1227.8,787.8 1253.5,805.9 1266.4,824.6 1188.2,819.4 1190.9,779.4 1277.1,844.5 1272,847.3 1181.2,794.1 1252.4,775.1 1204.2,769 1284.5,878.5 1234.3,768.8 1282,886.3 1242,769.8 1184.9,812.5 1177.6,824.2 1203.2,801.1 1185.1,804.5 1159.7,826.2 1185.6,814.4 1180.1,830.8 1241.3,755.3 1252.1,781.2 1163.5,820.5 1187.8,807.9 1202,802 1251,811.1 1182.3,783.3 1257,798 1278.7,851.3 1218.3,730.3 1238.2,718 1233.3,777.4 1173.6,839.9 1222.9,675.9 1197.7,814.8 1288.3,905.8 1166.9,812.5 1278.6,852.1 1230.7,682.6 1170.8,824.5 1260.6,824.9 1268.2,838.4 1215.7,795.1 1201.1,806.5 1219.7,776.5 1194.2,799.2 1233.3,763.5 1275.7,865.4 1176.1,828.5 1208.9,791.8 1195.2,800.2 1281.4,880 1265.5,819.1 1226.8,700.9 1193.8,828.4 1250.9,791.1 1168.5,795.1 1169,794.7 1171.7,801.2 1216.9,782 1187.9,794.7 1220,791.7 1264.3,807.3 1211.8,776 1261.4,803.5 1221.5,693.1 1261.1,817.3 1214.2,743.7 1238.4,768.7 1170.2,825 1223.5,757.2 1253.4,803.9 1231.5,748.9 1179.1,809.4 1222.5,756.3 1222.2,746.9 1252.5,797.4 1226.5,725.8 1271.6,861.5 1231.3,748.5 1261.4,799.4 1263,836.9 1221.7,784 1261.8,837.6 1237.5,775.5 1198.8,780.2 1243.1,768 1175.7,817.5 1244.5,791.7 1235.5,743 1185.6,805.6 1268.5,833.6 1279.6,886.9 1184.9,790.7 1202.2,798.2 1184.5,795.2 1192.7,787.4 1196.6,774.2 1193.2,785.1 1193.7,781 1190.4,790.2 1248,802.7 1249.1,753.2 1205,805.5 1224.4,751.2 1173,812.8 1234.8,672 1193.9,801.4 1214.6,740.2 1265.7,811.2 1200.3,784.9 1212.8,750.6 1197,808.9 1197.9,781.5 1271.1,848.2 1238.4,787.7 1216.5,760.6 1163.4,815.6 1219.1,793.4 1267.8,805.2 1199.1,779.6 1167.1,830.6 1233.6,667.2 1282.4,826.3 1170.7,826.7 1171.4,804.1 1170.8,814.2 1248.1,799.7 1186.6,817 1224,713.2 1232,666.5 1205.4,809.6 1265.1,824.2 1176,798.6 1247.2,765.9 1235.8,724.4 1266.5,855.9 1186,792.7 1281.2,864.9 1220.4,762.5 1241,787.6 1192,802.2 1285.2,894.4 1165.8,824.5 1227.4,700 1226.8,742.4 1205.2,803.1 1203.3,803.9 1161.9,801.1 1274.3,852.2 1268.3,798.1 1215.3,795.5 1192.6,832 1250.1,762.7 1172.3,802.8 1220.8,759.9 1167.2,831.1 1172,838.6 1264.1,817.5 1247.5,800.4 1179.1,839.4 1276.4,847.9 1223.2,787.5 1224.2,780.2 1265.7,840.7 1245.6,777.3 1258.2,837.1 1200.9,821.4 1247.9,808.3 1263.8,803.2 1186.3,834.4 1191.7,776.2 1175.9,827.5 1279.7,831.1 1201.9,809.9 1249.3,788.2 1269.8,797.3 1166.6,795.4 1237.7,774.1 1245,795.9 1227.7,753.3 1209.5,769.5 1238.2,734.4 1211.3,784 1195.9,784.7 1268.8,855 1193.8,809 1204,807.4 1198,787.1 1232.4,738.2 1272.7,864.6 1251.7,776.2 1204.9,791.1 1192.5,814.1 1198.3,788.8 1206.4,804.2 1191.2,795.6 1247.2,808.9 1265.8,850 1204.9,793 1220.6,718.2 1198.8,811.7 1276.2,802.6 1183.8,809.9 1249.8,776.3 1215.2,746.5 1195.2,824 1233.2,743.9 1224,783.7 1169.7,789.9 1175.8,802 1271.8,809.3 1236.5,786.4 1269.6,804.3 1249.7,761.6 1225.7,770.1 1234.3,714.2 1231.9,667.5 1282.2,849.5 1157.3,818.6 1241.4,771.8 1274.8,815.2 1184.1,829.8 1245.1,763 1265.1,813.9 1267.4,816.3 1195.8,765.8 1234.9,723.7 1186.2,829.2 1208.5,795.8 1175.5,804.8 1190.3,796.3 1163.4,798.5 1256.8,819 1231.5,763.7 1233.7,764.9 1161.2,806.9 1232.3,759.3 1237.3,771.8 1280,818.3 1181.5,806.3 1277.2,809.4 1194.1,822.7 1227,722 1247.7,753.2 1266.6,807.1 1185.1,818.4 1216.3,766.7 1228.1,773.9 1247.8,756 1165.6,801.8 1251.8,816 1279.4,867.6 1230.2,687 1206.1,800.8 1272.9,861.1 1260.4,819.6 1197.6,826.9 1244.8,788.7 1176.4,833.7 1200.3,781.2 1218.4,718.1 1212,799.7 1161.1,823 1221.5,695.7 1262.7,811.2 1241.8,764 1205.2,806.1 1270.7,850.8 1171.2,801.7 1237.1,742.8 1246.7,768.6 1261.1,831.2 1161.3,822.1 1221.4,725.9 1234.8,767.1 1181.8,830.5 1234.4,695.3 1199.1,780.7 1229.5,784.7 1234.1,744.4 1195.1,788.4 1238.2,711.1 1272.4,852.7 1161.3,808.7 1262.6,841.2 1272.1,808.7 1238.3,782.1 1267.1,846.6 1278.2,817.9 1259.7,839.7 1207.1,765.6 1281.5,836.1 1284.8,900.2 1255.3,808.9 1231.4,688.6 1235.2,712.7 1214.7,729.2 1234.5,789.6 1193.3,815.4 1182,779.3 1207.6,791 1201.9,764 1169.3,785.3 1237.8,787.2 1201.3,784.8 1278.5,861.5 1250.3,783.3 1221.2,727.3 1169.4,824.8 1171.5,804.4 1276.1,848.7 1234.8,706.3 1169.2,830.3 1185.5,831.5 1258.5,837.8 1225.1,771 1222.4,708 1285.2,893.1 1176.8,815.5 1269.4,820 1176,795.4 1190.4,775.2 1264.4,826.9 1165.2,798.4 1168.9,815.7 1276.5,874.7 1213.9,764.8 1185.1,797 1227.6,787.7 1282.7,833 1249,762.2 1261.1,809.1 1236.2,749.9 1208.6,804.7 1197.6,791.5 1267.2,832.7 1202.9,776.9 1267.5,841.7 1172.7,817.4 1165.3,820.1 1221.8,783.3 1222.3,770.5 1258.1,806.1 1283.8,861.2 1283,887.3 1174.4,838.5 1205.8,792.6 1222.7,747.4 1282.9,819.4 1188.2,780.2 1218.2,778.6 1168.2,823.7 1174.3,835.3 1250.4,808.7 1218.1,712.9 1193.4,805.8 1163.7,828.2 1239.4,753.5 1249.7,763.2 1181.3,780.5 1212.9,748.6 1177.1,814.2 1218.5,781.3 1262.9,804.5 1166.9,808.4 1194.8,808.6 1169.2,832.5 1183.4,810.5 1282,880.7 1222.3,747.9 1258.2,825.9 1218.1,692.3 1268.1,819.2 1180.3,840.9 1275,808.9 1282.9,825.9 1232.4,742.9 1187.1,795 1271.9,797.3 1277,871.3 1270.6,803.5 1233.8,767.7 1287.8,893.6 1210.2,764.1 1217.9,741.7 1221.1,764.4 1275.1,862.2 1244.8,802.1 1242.5,761 1234,688.6 1256.4,823.4 1283.9,841.4 1182.3,836.3 1234.1,681.8 1231.3,783.6 1189.1,816.3 1210.6,794.8 1277.4,804.6 1276.7,841.1 1218,748 1263.2,835.8 1202.5,811.3 1264,815.8 1228.1,782.3 1282.9,837.2 1228.4,698.6 1199.4,787.8 1198.3,819.2 1179.2,822.3 1165.8,824.1 1172.4,805.5 1193.2,776.7 1278.3,858 1175,789 1233.4,753.3 1240.1,744.4 1282.8,817.4 1278.9,848.5 1201.7,814.5 1268.8,851.3 1270.3,830.9 1245.9,777.3 1174,834.3 1225.4,664 1244.1,785.1 1276.5,860.4 1262.3,844.2 1212.1,768 1178.4,779.9 1170.7,792.9 1255.9,816 1285.1,901.2 1164.2,828.6 1168.3,828.4 1227.6,777.9 1250.5,810.9 1170.1,819.1 1279,810.4 1177.2,806 1267.2,815 1276.3,869.9 1204.1,768.5 1191.7,767.6 1169.5,827.5 1203.5,814.5 1185.3,836.7 1172.3,826.2 1202.1,763.2 1188.5,779.4 1162.7,835.7 1181.9,836.1 1169,793.1 1274.8,823.9 1217.3,793.8 1220.1,677.3 1219.2,766.4 1177.5,787.7 1287.4,907.4 1229.6,751.6 1237,742.9 1226.1,698.4 1231.4,751.8 1269.8,851.6 1226.7,691.9 1200.8,786.8 1210.7,783 1276.3,803 1274.6,868.1 1187,810.1 1266.5,810.6 1216.1,760.6 1206.4,786.1 1162.1,810.6 1223.3,764.6 1262.4,820 1222.4,732.2 1272.3,831.2 1237.8,781.8 1214,752.8 1278.4,807 1206,780.5 1159,817.1 1223.8,678.7 1223.3,766 1223.4,754.6 1238.1,748.9 1191.8,792.3 1222,774.3 1262.9,832.1 1171.5,834.7 1276.9,808.1 1179.7,815.5 1234.8,679.1 1279.1,829.2 1238.5,757.1 1230.5,742.4 1175.8,806.3 1236.9,679 1206.1,811.1 1266.3,830.7 1191.3,777.5 1255.7,813.5 1181.8,823.6 1182,829.7 1219.9,772.7 1207.4,765.8 1179.3,814.8 1285.6,895.9 1223.7,793.2 1214.1,743.3 1196.1,765.3 1180.3,816.5 1227.3,684.4 1160.9,820.4 1174.4,802.1 1178.3,840.2 1160.9,830 1230.2,680 1244.8,749.9 1219,737 1288.5,902 1197.5,798.8 1162.3,809.5 1192.6,775.6 1255.7,812.1 1174.6,815.2 1286.5,891.2 1285.3,882.2 1290.7,917.6 1290.4,900.9 1284.4,848.2 1278.3,805.5 1281.2,820 1278.4,808.6 1281.6,816.6 1285.1,878.1 1287.2,871.1 1284.2,861.9 1281.9,818.4 1276.9,812.8 1277,816.4 1280.7,827.1 1284.1,870.2 1281.9,834.4 1289.5,910.8 1284.6,843.1 1282.8,828.2 1283.3,873.2 1287.1,897.2 1284.2,838.7 1284.8,842 1289.6,902.8 1282.5,825.7 1283.8,875.8 1288,903.3 1282.5,846.8 1287.4,881.5 1282.4,850.4 1281.8,817 1269.5,796.4 1283.6,873.1 1283.6,823.6 1277.8,812.6 1271,802.8 1287.9,886.6 1277.9,814.7 1280.1,817.4 1284.3,873.5 1277.7,809.8 1285.9,878.9 1267.8,799.1 1289.2,897.7 1282.4,836.9 1268.4,797.3 1289,919.1 1276.5,805.7 1288.8,891.4 1290.3,919.2 1281.1,839.2 1286.3,880.1 1286.6,888.3 1283.1,870.3 1281.5,816.5 1280.4,813.2 1284.5,832.3 1285,878.9 1288.2,898.1 1283.2,837.3 1281.8,856.1 1273.4,801.2 1288.2,893.1 1285.4,856.9 1284.7,839.6 1284.1,825.2 1283,851.4 1287.7,911.7 1282.6,840.4 1283.8,868.7 1273.8,800.1 1284,878.3 1284.3,879.5 1282.9,862.8 1275.5,808.4 1285.1,825.1 1274.3,804 1284.6,823.6 1287.9,906.5 1283.5,841.1 1287.2,879.6 1280.9,824.9 1278.9,807.5 1284.7,872.6 1283.1,849.7 1283.6,847.3 1287.7,885.9 1288.7,903.8 1280.6,812 1277.3,813.8 1283.1,869.6 1290.9,915.3 1281.3,828 1282.5,862.2 1278.1,809.2 1271.6,803.5 1283,870.8 1285.4,849.3 1282.6,854.4 1273,805.3 1283.7,866.7 1289.7,903.6 1280.7,820.5 1284.4,856.7 1283.8,858.5 1289.5,909.3 1277.1,811.7 1283.7,865.7 1282.6,824.3 1281.7,836.2 1291.3,910.2 1274.2,804.5 1284.1,845.1 1285.3,835.7 1283.3,871 1288.5,909.5 1267.9,800.8 1288.7,907.5 1286.6,886.1 1284.4,837.7 1271.4,800.2 1288.3,905 1286.2,868.6 1290.3,910.1 1285.8,870 1287.1,886.9 1284.3,878.6 1283.7,844.8 1288.8,910.8 1267.7,773 1267.7,782.7 1260,909 1262.7,920 1260,941.8 1265.5,944.5 1260,961.8"/>
<polyline marker-start="url(#mt)" marker-mid="url(#mt)" marker-end="url(#mt)" points="338.4,176.4 509.1,228.4 471.2,270.1 484.2,269 508.1,274.9 517.4,297.1 358.5,348.7 438.3,360.5 523.2,339.5 549,362.2 561.6,365.8 581,386.5 358.5,394.6 380.5,409.1 524.1,400.6 534.3,414.9 534.3,421.9 558.2,418.1 561.2,432.6 593.5,360.5 598.4,375.4 591.6,389.3 609.5,395.7 619.3,384.6 631.5,381.8 652.4,374.3 649.2,395.7 633.6,407.8 593.5,430.9 610.4,429.8 666.7,419.1 669.2,419.5 688.4,411.7 688.7,431.5 691.6,432.3 674.1,440.9 677.3,440.5 632.1,451.1 645.8,450.1 649.6,447.9 662,456.9 665.4,453.9 621.2,461.4 695.5,454.3 691.2,471.8 628.3,487.8 638.5,482.5 657.1,486.3 663.9,485.7 678,487.8 685.5,488.5 628.3,504.9 665.4,500.8 685.9,508.7 693.3,502.3 697.6,494.9 699.7,528.7 699.7,544.7 680.5,561.2 684.8,564.7 697.6,569.2 680.5,591.2 698.7,609.2 704.5,494.2 715,486.9 725.2,483.4 725.4,486.8 737.3,495.4 742.5,501.2 728.6,502.2 728,502.7 718.4,501.2 712.5,503.8 762.2,502 775.3,516.2 767.4,526.7 778.8,528.2 769.6,535.7 787.2,539.7 770.9,535.4 774.3,545.3 773.4,549 776.2,549.5 726.6,533.3 735.2,531.2 741.7,531 753.4,534.7 709,541.9 722.1,553.4 738.7,543.4 750.4,547.1 743.2,547.1 755.2,550.2 758.2,554.2 705.3,549.5 703.4,579.3 711.8,578.1 756.2,568.8 768.3,566.1 776.1,566.3 787,566.2 742.3,579.5 751.7,581.3 759.7,573.2 726,587.1 734.4,585.5 737.8,584.9 749.9,593.2 762.2,584.7 798.9,539.3 802.2,546.3 804.9,542.9 814.8,551.6 821.8,552.8 866.9,553.3 873.1,550 883.1,564.8 911.2,580.3 919.2,583.8 928.2,588.4 925.5,602.3 936.2,608.9 939.4,573 945,577.1 963.2,564.5 971.1,550.3 967.2,589.7 971.1,602.4 956.1,581.1 947.4,591.4 911,575.6 918.2,577.1 927.7,581.9 926,598.7 942.5,600.7 947.6,603.7 946,608.7 958.5,604 963.2,612.7 949,611.7 954,617.7 957,619.7 962,622.7 973.5,629.3 981.4,629.3 944,614.7 950,622.7 966,631.7 975,634.7 981,624.7 981,636.7 989,640.7 998,613.5 998.8,619.7 998.8,626.2 999.3,632.5 1024.9,608.7 1025.7,615.1 1025.7,621.4 1025.7,628.5 1025.7,635.7 1024.9,645.1 1023.3,653 1036,653 1039,668.7 1062,712.7 1044.9,701.5 883.5,611.6 985.9,679.6 1020.4,672.3 912.8,599.5 931.7,657.6 960.8,642.7 900.4,642.1 802.4,599.3 907,607.1 878.3,641.4 924.9,615.3 792.7,611.9 979.5,676.2 1055.4,703 952.3,637.8 906.1,588.4 997.5,700.7 835,565.3 1016,659 864.2,553.7 1025.5,671.8 912.2,578.1 846.8,585.2 1018.2,679 889.2,578.8 842.7,557 867.8,601.6 897.7,690.7 882,666 840.8,585.8 939.3,670.3 909.3,619.6 1013.9,661.6 935.2,663 1015.2,665.3 910.2,579.2 973.5,687 971.7,649.4 922.6,601.3 850.1,589 824.8,627.8 842.1,560.4 1057.4,714.5 869.6,553.6 928.6,612.5 870.3,559.9 1004.2,657.5 948.4,638 1075.3,812.4 1052.2,776.3 940.1,713 964.3,651.4 999.8,705.9 758.2,599.3 1010.9,687.3 849.3,562.6 872.8,694.5 870.9,576.3 984.8,678.1 942.3,676.3 1037.5,759.8 845.1,553.8 1049.7,775.6 899.7,606.9 982.9,661.3 845.6,564.1 885.9,618.2 860.7,623.8 1067.2,738.7 944.2,673.7 1019.9,704.1 931.8,674.6 781.5,606 986.1,656.1 959.4,645.3 906.6,590.8 941.9,634 840.4,614.7 875.9,608.6 764.5,594.9 1016.4,672.5 850.8,593.6 886.2,588.6 868,579.3 981.9,660.1 967,675.9 1023.7,699 1074.5,760.6 936.1,669.6 1067.5,769 1050.7,699.6 912.2,639.3 999.9,704.7 878.6,583.3 909.5,602.1 841,570.6 965,679 871.5,613.7 1005.8,661.1 757.6,589.9 1049.2,709.5 887.7,628.1 888.2,577.2 874.3,617.6 920.3,605.3 905.2,585.9 1010.8,676.5 984.7,674.1 1046.4,755.3 851.9,574.8 747.2,567.7 1069.5,734.1 930.6,647.9 1027.9,709.8 1041.6,697.6 841.9,560.1 815,610.7 1006.6,709.1 849.7,555.2 972.4,652.7 893.2,621.4 969.2,672.4 1060.4,797.6 887.5,595 776.9,583.4 964.8,653.4 842.5,601.4 978,664.2 854.3,556.8 878.9,666.8 1053.1,699.2 1055.9,782 1018.6,668 1066,779.3 853.6,551 901.7,626.6 783.2,594.9 931.9,649.3 843.9,609.6 1002.6,657.5 1022.7,677.7 1055.2,714.3 868.6,559.4 892,576.3 859.2,584.9 939.5,657.8 851.6,553.5 855.3,643.7 852.6,603.5 940.3,668.5 1056,711.7 989.6,674.3 899.9,606.4 866.7,552.1 1051.4,739.8 860.6,639.2 863.3,618.1 948,695.8 909.7,685.3 995.3,672.8 848.7,562.3 851.9,586.3 1022.6,719.7 963.4,657.1 880.6,655.4 977.1,676.6 941,693.2 948.5,642.7 900.8,594.3 992.6,678.9 918.7,618.7 844.1,578.4 948.7,648.7 930.4,726.4 1049.6,695.7 1059.1,770.4 1024.2,731.9 868,557.8 965,687.2 843.6,555.3 1059.4,787.5 877.8,660.3 752.8,572.1 962.7,647.8 967.5,651.9 916.9,586.9 903.4,589.5 891.1,603.5 972,675.3 933.4,702.5 909,583.6 983,663.1 1055.3,718.6 756.3,605.5 924.7,688.7 899.7,627.5 835.4,565.4 844,576 890.2,619.2 967.8,653.4 878.8,567.6 848.7,571.1 1046.1,691.7 908.4,582.3 948.4,654.3 891.9,595.9 879.9,595.4 863.6,627.3 1055.2,781.9 899.4,583.4 1011.1,681.3 937.8,670.5 1024,695.6 914.6,586.2 810,566.6 1057.2,736.8 788.9,588.1 1030,690.8 938.3,632.1 889.9,576.9 1015.4,689.2 999.6,682.1 839.7,565.8 895.2,688.1 1019.7,710.7 935.4,674.4 893.2,579.2 1036,698.9 1063,768.5 945.1,648.5 983.4,655.9 896.3,596 1025.7,754.4 841.8,557.3 896.2,635.8 915.4,650 1066.5,764.8 975.1,649.4 947.6,672.4 865.7,554.2 980,700.9 967,652.2 1039.1,692.8 1019.2,746.1 1042.4,683.2 871.7,608.6 872.1,659.3 1001.2,697.8 1058.8,757.5 1065,739 852.9,585.1 1059.9,748 889.5,579.3 852.4,556.2 992.1,660.5 914.7,691.6 891.9,629 895.8,600.1 912.6,605.7 847.5,599.5 940.7,627.2 1068.8,806.7 880.1,588 1015.2,689.8 943.2,691 1005.8,665.2 926,686.3 1041.9,762.1 1020.5,708.2 786.6,601.2 874.2,556.4 949.9,691.8 1076.5,781.1 918,586.6 980.7,696.7 932.4,657.8 840.6,567.1 949.9,695.1 890.5,660 948.4,663.7 866.7,625.3 853,571.3 1043.2,763.1 1058.8,714.5 1047.2,717.8 859.6,657.5 1060.5,798.7 897.6,587.6 1052.5,749.9 1052.6,750.1 1072.1,777 1025.8,751 913.6,677.5 909.7,685.8 937.6,668.7 742.1,569.3 749.7,572 845,561.4 1036.7,685.3 988.6,713.9 740.4,562.8 863.5,567.7 1050.7,770.6 840.2,613.4 838.6,569.9 1077.8,802.1 845.3,589.1 911.7,634.2 1036.3,712.7 1055,776.1 859.1,551.8 866.2,595.8 986.9,695.3 999.3,684.5 952,677.1 906.7,636.9 1030.2,745.3 994.9,690 833.9,566.9 919.5,605.4 865.9,577.2 1029.8,678.2 1055.7,700.5 911.8,643.8 1006.9,660 847.3,552.7 942.9,630.7 905.8,595.4 843.7,572.9 915.2,623.1 894.9,577.3 891.3,636.5 723,553 1037.8,684.5 935.3,620.3 938.5,692.8 1049.9,761.3 1044.7,684.6 1022.4,665.3 1038.8,776.8 994.7,681.9 1000.1,658.1 1037.4,681.4 873.5,572 984,663.6 903.5,616.5 1006.1,714 1032.7,684 820.6,569.5 1004,655.1 1007.2,657.6 983.6,653.7 966.5,675.6 970,653.4 775.2,607.2 921.4,607.7 922.8,682.7 867.4,556 1050.8,718.8 916.7,595.6 874.7,663.7 1021.3,672.1 997.1,711.2 911,691.2 840.2,618.9 1034.2,680.4 880.3,582.3 853,617.7 987.9,694.2 965.2,654.4 839,563.5 1017,662.9 935.6,630.3 883,589.7 949.3,638.3 858.1,642.9 1006.6,673.5 875.3,611.7 1054.6,759.8 916.8,634.6 898.1,645.1 932.4,616 978.5,690.2 925.5,612.4 885.8,585 1031.1,727.6 884.5,588.3 850.2,573.3 1069.1,776.9 1055.6,705.8 1053.1,776.4 1023.5,668.5 1038.7,769.5 1002.6,681.3 951.5,644.7 837.7,558 989.5,660 851.8,567.4 920.9,673.1 923.5,608.4 1028.5,715.1 938.5,706.5 908.3,601 823.1,606.9 1059.4,708.6 909.8,609.4 910.4,579.2 1024.5,667.8 964.1,655.2 912.6,666.1 867.3,593.4 878.4,621.4 937.9,675.7 841.5,598.5 973.3,651.1 1066.8,786 1018.6,725.9 929,708.7 857.5,626.8 1069.6,732 967.8,692.9 854,587 1046,696.4 868.2,628.1 1019.1,745.5 969.5,647.2 1026.3,680.5 942.2,680.7 1069.7,758.2 855,583.3 940.5,683.9 864.9,602 818.1,565.4 937.2,624.4 879.9,591 875.7,576.1 886.7,611.5 1062.8,716.2 860.9,553.1 1049.9,759.6 1029,670.3 916.5,635.7 935.2,683.4 865.4,664.4 949.7,671.4 947.8,652.7 752,581.6 837.2,588.8 864.6,625.1 907.8,637.7 877.4,565.8 974.3,684.1 868.6,554.8 1038.5,735.3 1010.6,717.2 910.5,684.7 1022.7,725.4 1057.6,784.3 942.7,624.4 949,658.7 765.8,599.5 958.9,703 1007.3,659.5 993.3,655.5 1039,687.8 1067.6,722.2 1003.1,657.9 1037.4,740.6 931.3,654.3 869.9,577.1 855.8,576 853.1,598.8 927.6,623.9 894.9,685.4 1059.8,794.6 898.5,580.5 859.2,650.4 896.1,584.5 1062.3,721.9 941.5,649.7 853.5,567.9 1017.3,692.8 1035.9,674.3 844.9,576.3 965.1,660.8 880,656.9 1034.5,721.2 851.5,609.6 954.1,685 1000.8,678.2 1052.8,782.7 885.6,586.1 865.3,623.5 1065.5,728.3 917.9,625.5 910.4,617.2 900.3,623.7 1070,780.2 1064.8,736.1 856.2,555.9 872.4,642.6 870.4,603.3 1053,721.4 872.9,668.2 1070.4,729.9 1027,759.2 884.1,591.6 865,563.3 1011.3,681.7 886.8,596.2 1048.1,792.2 889.3,584.5 879.1,650.2 1048.2,695.6 844.3,569.6 1028.8,740.3 1060.6,731.2 811.5,615.1 901.1,586 881.3,574.8 1050.2,719.4 929.4,616.5 933.3,625.3 1056.8,776.5 995.1,678.2 999.3,656.3 1018.2,673.4 903.6,588.2 706.8,562.2 1020.8,668.6 919.8,624.9 863.5,566.9 853.4,549.1 870.2,586.6 905.5,616.5 869.1,549.8 891.2,688.8 946.6,653.3 883.8,638.6 856.2,599.9 928.8,612.6 929.1,625.2 744.5,567.8 844.5,602.4 939.8,643.2 990,705 899,619.2 1044.1,694.7 918.8,618.1 898,620.1 1017.2,734.7 909.9,590.6 1011.2,703.3 879.7,600.4 875,606.1 868,553.1 878,567.5 885.1,591.3 1010,666.1 1047.6,718.1 760.2,561 880,687.3 934.9,726.9 916.5,597.4 871.8,563.1 1011.9,694.9 1036.5,702.2 1038.8,757.3 834.6,593.3 835.2,568.7 850.2,596.2 849.4,551.1 1000.8,688.6 1033.1,755.3 992.8,702.4 882.7,602.4 937.9,641.1 921.4,623.2 932.1,613.8 855.8,628.4 1037.7,686.7 846.1,558.9 1041,708.1 1070,753.2 847.3,615.3 848.3,602 1076.3,786.6 1024.1,685.3 829.2,569.9 1036.4,736.7 945.3,636.2 924.5,686.4 845.4,631.5 836.5,602.1 769.1,576.5 939.3,625.7 975.6,702 885.7,662.8 856.4,549.1 975.6,655.1 993.4,652.1 852.2,566.3 932.4,625.8 850,553.9 899.3,583.6 937.5,619.4 932.9,627.1 807.5,597.2 992.8,659.1 944.3,631.8 922,665.7 864.2,588 1047.2,702.6 1015.5,663.9 879.8,649.1 1038.6,692.3 909.2,596 864.8,570.3 1031.3,709.5 1032.3,711.1 979.7,670.8 868.6,594.9 894.8,584.5 888.6,678.7 1064.8,798.7 938,634.9 899.1,595.3 1064.3,784.1 1016.9,688.6 926.1,674.4 1043.8,742.3 1059.9,744.9 1031,709.2 939.1,694.1 917.3,668.2 877,692.7 999.5,659.7 982.4,655.2 841.9,557.1 914.4,685.4 873.2,604 915.7,588 986.9,659.5 813.9,613.4 815.2,584.4 971.2,659.3 988.6,653.1 1047.9,735.9 1002.4,664 840.2,594.9 912.2,668.2 856.4,639.9 1032.4,675.8 876.6,621.6 882.1,607.9 935.6,640 849.2,563 1023.8,728 843.1,602.7 1041.5,723 1063.8,753.8 922.5,623.5 947.6,677.9 1075.1,743.5 983.3,657.2 941.9,626.1 856.1,549.3 1032.8,675.5 900.9,599.4 987.5,649.7 739.7,584.6 896.9,581.6 882.2,581.8 997.9,694 773.7,565.5 906.9,605.9 793.2,604.7 984.4,687.1 1066.7,794.8 885,634.9 972.5,655.6 1008.6,726 949.3,690.2 891.4,589.2 942.4,667.7 922.3,672 1006.8,680.6 1042.5,705.2 904.5,691.2 888.2,577.2 1035.4,725.9 889.3,658.5 980.3,665 934.5,717.3 936.9,623 915.6,597.9 1063.6,733.9 906.6,651.7 1010.5,656.4 981,696.8 946.4,643.2 1054.8,704.1 926.8,612.4 940.4,645.6 1041.8,685.7 922,612.2 845.4,625 967.8,659.5 935.1,642.3 827.2,570.1 800.3,608.1 1015.4,673.7 767.7,565.6 874.6,662.5 945.1,653.6 1015.3,738.5 945.7,711 832.7,585.4 983.4,692.2 923.9,654.9 883.1,644.9 946,721.2 934.1,622.4 1018.7,686.7 851.1,640.7 927.8,611.7 866.7,564.8 1053.4,763.2 801.6,576.6 915.2,651 883.4,589.3 1054.3,764.4 1028.8,729.1 1063.6,771.9 1003.9,665.2 989.9,709.8 944.3,682.4 861.4,583 934.8,678 932.7,621.3 1072.5,754.4 848,626.5 899.4,685.8 794.7,599.6 993.7,656.3 929.5,646.6 885.2,579.1 955.5,651.4 1072.4,741.1 904.9,638.4 852.1,557.8 839.7,623.1 1016.5,664.5 881.5,629.9 825.8,558.3 864.6,638.9 875.1,644.2 859.3,609.5 978.7,675.1 861.3,584.5 875.9,581.6 891.8,675.9 864,580.7 1015.5,660.3 1014.1,734 957.7,704.2 919.2,658.3 1076.6,761.6 919,684.3 986.9,668.1 906.1,644.2 1068,752.9 921.5,626.5 809.2,609.2 959.9,680.6 1023.2,685.9 944.3,638.3 940.5,674.5 942.3,634.5 880.7,568.7 911.5,621.4 896.6,632.9 903.1,615.5 866.5,599.7 869.6,559.4 913.3,633 931.8,620.5 944,679.3 868.4,552.7 1038.2,695.8 941.9,657.2 930.8,629.5 856.6,615.3 980.3,698.6 928.4,699.5 929.1,726 859.8,567.3 1011.9,680.5 942.3,707.7 869,552.8 767,604.3 873.3,600.1 913.5,611.7 1027.2,744.2 947.5,655.5 1047.7,716.6 886,609 972.9,656.2 1004.1,672.4 827.2,599.7 1042.4,765.9 1071.3,730.7 1068.5,798.3 1043.7,684.5 977.2,651.6 1046.2,700.6 825,590.2 985.8,671 909.5,579.8 996.5,653.6 946.1,629.2 919.7,628.7 874.9,643 876.5,666.8 905.2,643.7 918.4,601 840.7,590.5 819.8,593.1 883.5,585.4 926,700.1 1019,674.4 950.1,671.3 996.4,681.9 829.7,565.5 1017.4,673.6 943.6,627.3 946.7,643.9 810.3,572.7 931.6,685.3 794.7,589.9 953.9,681.7 838.3,562.9 1038.6,726.8 859.8,596.2 898.7,584.2 908.6,621.2 971.4,691.1 880.1,691.5 899.9,633.2 905.6,609 984.1,685.8 832.4,558.6 895.2,593.8 917.3,685.5 885.4,584.6 914.2,594.8 909.4,614.1 846.6,609.9 962.2,685.5 916.4,586 1002.9,714 1044.5,745 849.7,564.2 985,650.4 881.9,594.4 1019.4,661 880.1,623.9 726.4,589.3 921.9,656.1 874.4,636.6 857.8,609 1017.7,661.9 881.5,585 1042.4,686.2 909.4,691.7 840.4,640.2 834.5,581.4 917.9,644.5 882,604.8 1038.1,680.5 1045.2,688.5 861.7,561.9 936.5,634.6 923.1,600.2 885.6,577.1 849,601.1 940.6,649.3 784.9,573.4 988.3,666.3 1039.5,684.8 896.3,575.6 1056.1,740.7 893,582.2 1043.8,701.3 849.8,579.7 898.8,659 827.8,605.4 1043.8,684.6 981.1,680.2 1008,721.6 922.2,647.5 948.4,654.8 852.4,588.2 934.3,635.6 998.9,705.7 930.3,631.6 930.4,678.9 972.8,676.3 950.3,633.8 967.1,687.7 975.9,685.9 855.2,576.6 994.4,714.1 837.7,561 873.6,570.4 967.5,659.4 1052.4,745.4 987,702 1036.4,674.8 912.5,634.3 996.7,710.2 867,595.1 1045.9,691.6 811.2,573.8 800,589.9 966.2,687.5 881.3,584.4 1047.2,688 950.6,636.9 1007.8,662.5 1030.4,683.9 1054.6,744.7 1011.9,666.4 977.4,673.8 907.1,621.9 936.5,697.6 1077,795.3 928.6,611.7 961.7,708.6 869.3,559.2 864.8,554 930.9,620.5 1042.9,769.1 1039.3,713.9 917.9,638.2 908.3,622.7 829.2,586.4 941.4,629.7 862.7,583.3 1046.3,791.7 991.5,662.1 878.4,618.1 996.3,658.8 1053.4,707 1074.6,780.8 934,660.4 1044.6,764.3 811.5,562.2 912.2,642.5 904.2,624.9 859,561 892,582.2 993,697.8 989.4,669.1 1011.5,713.6 869.8,673.1 894.1,576.2 1074.5,814.6 973.9,651.5 750.2,590.8 1032.1,763.6 960.3,693.6 899.1,603.6 956.8,651 970.4,691.2 918.1,677.4 1009.9,666.8 832,569.8 950.5,667.1 858.7,616.4 889,597.3 846.6,608.1 875.5,565.4 1045,704.3 1022.7,666 929.2,663 990.4,668.9 860.9,594.1 1042.4,693.1 908.4,637.3 895.9,634.8 911,584.4 924.7,605 837.2,572.4 893.8,658.2 822,606.3 943.8,669.4 945.3,717.1 870.8,595.1 835.2,607.9 939.1,719.7 846.8,587.4 879.1,591.9 1053.3,706.9 851.7,575 879.4,648.9 993.1,657.7 1031,681.8 829.8,566.8 945.7,687.8 994.7,658.4 962.2,686.9 856.7,631.7 860.7,550.2 925,660.1 962.3,664.5 862.8,600.6 923.4,603.3 877.8,589.8 999.9,721 1069.7,760.3 896.7,669 1020.7,750.6 876.4,693.8 950,672.6 872.4,679.3 855.1,603.3 1053.3,763.1 868.7,691 1031.5,765.6 1020.7,751.3 869.7,561.8 873.7,593.3 862.2,664.2 1029.5,683.3 876.4,566.7 867.7,566.9 888.3,642.6 827.8,586.2 1023.4,675.9 961.8,651.6 1044.8,718.4 899.6,677.8 931.2,633.5 864,552.5 887.5,575.8 1038.2,755.1 1031.8,701.4 896.3,588.9 853.3,563.4 887,611.6 864.6,593.1 928.3,615.5 946,709 1006.8,683.3 874.9,637.5 873.4,659 880.6,578 1014.4,663.8 880.9,634.1 903,604.9 1049.7,771.7 1074.6,766.5 902.2,627.8 908.9,686.3 878.1,658.1 1017.1,672.6 1014.6,706.5 1019.9,693.7 854.7,576.9 1061.9,788.9 889.1,634.1 791.7,595.4 904.5,597.1 838.2,561.9 913.7,606.5 857.1,613.6 743.7,570.1 861.6,646.2 1061,737.6 1007.8,694.1 1052.5,699.2 949.7,642.7 1066.4,723.2 1042.6,771.9 825.2,616.9 929.6,707.5 922.7,701.1 888.3,583.3 961.7,707.1 876.2,632.7 878.3,591.1 956.1,690.2 927.6,713.6 970.2,647.5 955.8,638.8 873.8,602.2 909.1,641.5 939.7,662.9 956.3,664.4 935.3,617.9 856,568.4 871.7,560.1 985.9,664.5 858.7,610.8 862,569.7 866.3,619.4 929.4,611.1 990.9,654 877.3,568.7 950.8,664.8 875.4,695.9 906.3,584.2 1021.1,691.4 922,642.1 923.4,631.4 811.8,599 993.4,652.5 923.2,621 934,676.5 876.5,641.3 987,654.2 1035.9,717.6 878.8,669.6 812.8,620.7 997.3,710.3 925.9,706.2 815,574.6 967.2,695.9 928.5,698.8 982,690.9 724.3,588.2 997.3,714.1 863.1,592.3 958.3,657.8 1050.6,727 834.7,592.3 1003.7,695.6 926.9,638.7 1034.7,724.8 990.3,701.9 843.7,608 1035,728.5 1058.6,723.8 1007.3,707.5 1004.6,677.9 925.1,705.9 869.7,574.4 860.2,648.4 1030.4,688.8 907.1,653.7 964.2,661.6 1061.1,737.7 841.2,571.8 896.5,581.2 959.5,669.3 989.7,709.8 868.5,567.4 963.8,683.1 985.1,652.4 1017.4,669.7 834.2,628.6 846.9,638.5 868.6,560.6 1049.9,749.9 1063.2,717.2 982.1,665.7 880.3,597.3 1021.3,689.8 1054.7,786.3 953.2,636.2 851.5,586.3 1028,764.5 994.7,654.2 1047.8,728.4 850.2,602 1056.8,715.1 944.6,673.5 953.1,651.9 939.2,712.4 939.4,625.4 944.1,684.5 836.3,615.7 923.9,609 870.6,552.9 1033.8,740.4 910,693.2 870.4,555.1 1028.8,730 862.9,568.9 836.7,586.8 935.1,667.3 1031.7,743.6 894.6,600.5 856.7,599.7 904,644.9 885.6,597.1 968.5,649.1 872.8,603.9 974.9,649.9 909,609.7 908.1,579.7 983.4,680.9 874.9,604.5 1028.3,726.5 741.9,569.5 1038.5,732.5 1005.3,657.7 1003.7,656.4 863.5,587.8 954.3,647 1036.9,731.5 1065.5,723.7 923,620.8 906.1,586.8 1047.6,695.6 820.1,615.8 1039.1,693.4 864.3,568.2 913.8,629.7 878.7,644.2 1000.7,715.4 1057.3,759.4 1057.5,762 903.9,583.6 869.3,679.3 973.3,684.8 825.3,608.6 880.9,583.7 915.4,664.3 991.6,719.9 730.4,587 918.1,604.3 1045.6,720 856.7,573.8 906.2,595.8 842.9,624.6 988.3,710.8 984.7,671 1051.5,738.6 1042.7,767.5 925.9,615.5 911.1,601.3 870.4,645.5 712.9,557.9 869.1,564 913.1,625.4 1005.4,676.9 979,653.9 956.2,666.9 835,627 950.8,660.3 868,597.6 1033.5,725.3 838.6,566 1051.7,696.8 960.2,696.3 981.4,672.6 805.2,570.8 877.5,625.3 889.6,574.2 821,593.9 941,635.5 1020.5,749 1045.4,778.2 902,610.3 1040.1,685.8 1046.3,759 886.3,575.7 934.4,620.9 863.9,578.2 908.5,648.4 987.3,691.1 1014.4,677.6 895.4,599.7 933.3,647.8 943.8,711 897.6,620.4 864.5,602.1 947,679.3 918.2,586.7 895.7,587.8 863.9,668.3 989.5,714.8 1058.4,713.6 885.8,611.3 908.5,607.1 838.3,627 1036.3,712.9 901.8,626.2 936.7,641.6 998.3,660.3 994.1,659.5 892.4,610.7 858.5,624 957.8,651.9 891.7,582.2 865.3,601.6 937.5,700.6 1021,720.9 946.3,636 916.5,676.5 1015.6,713.3 1042.8,758 876.5,677.9 1067.7,761.2 946.3,696.5 1022.3,745.4 922.6,686.1 916,611.5 927.7,658.3 789.8,610.8 799.9,610.8 922.3,682.3 1046.8,707.5 1013.3,668.3 905.7,589.7 886.8,690.4 963.4,651.7 841.4,625.3 1055,791.7 818.2,585.2 865.8,589.6 856.7,569.5 860.1,626.1 927.5,643.7 1046.4,727.6 930.9,699.8 948.3,705.5 966.4,673.8 934.7,616.6 947.5,703.2 1006.7,732.7 876.3,662.5 859.6,548.4 806.3,569.7 1016.2,691.3 1040.1,698.5 856.5,564.3 865,637.7 1056.8,734.1 939.6,661.3 988,697.2 1027.3,690.9 929.1,643.5 859.3,554.3 1026.9,692.2 861.3,551.6 781.8,589.9 1050.3,754 907.8,625.5 774,580.4 949,681.1 1051,709.6 905.7,586.8 881.3,574 1027.1,709.7 1017.5,660.5 924,659.1 870,599.2 808.7,599.1 965.8,645.9 938.2,637.8 872,691.2 933.2,675.3 927.3,703.5 859.3,587.9 989.3,653 854.9,579.4 936.4,704 965.5,648.4 891.4,664 859.4,565.3 889.4,625.3 994.2,653.8 915,670.5 971.5,688.1 1034.6,702.8 880.1,585.3 934.5,709.2 881.2,649.4 876.6,572.8 822.8,616.6 910.9,629.7 839.1,570.2 933.5,615 880.8,658.1 843.3,615.2 962.9,649.4 862.1,620 943,641.2 1022.4,695.1 1053.8,717.1 917.1,665.3 886.5,648.4 1015,704 952.3,700.9 861.5,675.9 1038.3,694.8 720.1,597.8 964,702.8 857.8,568.1 906,589.3 861.9,653.1 931,638.7 908.7,640.3 989.3,667.6 843.9,569 885,580.3 948.3,714.5 946,629 853.5,640.7 1069.4,745.2 919.3,597.2 981,695.2 947.8,680.9 747.5,587.7 809,608.6 867.2,646.8 955.9,675.2 1044.1,775.2 888.7,577 987.1,688.8 879.8,596.5 1034.3,675.9 842.2,638.4 746.5,563.2 919,643.1 870.2,554.1 929,616.7 943.7,652.6 878.1,654.4 878.1,611.3 807.2,567.4 972.5,701.1 870.5,627.8 833.5,620.8 972.9,675.2 809.7,598.9 876.5,645.5 942.9,633 1037.7,719.3 875.2,578.6 975.9,673.3 914.3,638.2 828.1,568.1 841.6,604.7 995.8,692.7 960.7,655.7 930,639 855,621.9 852.2,560.8 1003.2,716.3 842.1,611.2 873.7,673.6 842.8,645.5 880.9,580.7 1028.6,683.9 859.1,567.1 1055.6,736.2 926.5,647.5 845.2,588.2 992.7,651.8 864.1,668.1 927.3,620.5 955.2,652.3 819.3,585.3 922,617.8 1023,684.1 892.7,606.6 1068.3,799 822.2,606.1 854.7,568.3 978.1,698.4 1015.3,677.1 925.6,677 949.4,662 827,565.4 852.1,559.6 987,672.9 924.7,646.2 859.2,557.9 956.9,714.3 863.9,595.5 866.9,551.3 1070.1,780.6 1022.6,710.3 832.7,570.9 1072.3,754.6 992.6,717.9 993.1,658 1049.1,750.8 873.8,554.3 890,602 875.2,584.9 920.1,598 1043.5,730.4 1061.5,752.3 864.4,549.7 883.2,614.6 1038.7,748.3 1051.9,758.3 931.2,633.1 857.1,550.7 1014.7,700.3 878.6,566.8 777.8,576.8 1035.4,676.8 926.1,634.6 975.6,650.9 949.1,638.1 906.7,589.1 1027.1,698.4 763.5,600.6 844.5,627.7 976.5,679.1 1001.5,657 909.4,661.4 988.6,692.5 956.9,656.9 1029.9,670.6 1034.8,744.7 925.7,650.8 994.1,651.7 858.5,636.5 882.4,595.6 1011.6,701 824.8,579.6 917.3,603.2 899.1,651.9 923.7,657.4 867.7,570.2 922.3,644.8 913,655.5 898.9,591 885.9,607.8 1033.8,728.6 869.6,682.9 1043.5,729.3 932,704.8 978.7,672.4 812,622.6 911.8,684.8 900.8,609.3 1020.6,687.6 865.9,609.8 840.2,556.4 958.4,666 848,573.1 764,601.6 837.6,570.2 874.7,621.1 931.2,651.4 1036.8,710 944.2,685.5 872.1,640 1053.6,739.4 1049,704.3 888.3,623 825.8,581.9 843.9,595 1059.5,711.6 892.8,575 894.3,595.1 727.9,586.1 926,664 897,642.6 964.4,680.5 884.9,610.7 834,571.8 929.5,695 1053.1,751.8 881.2,597.8 1005.8,719.6 1055.8,717.5 892.2,646.9 929,697.1 915.5,584 904.6,622.1 993.8,663.1 1067.4,727.8 905.8,592.4 859.4,647.2 1050.2,783.1 940.8,623.2 806.6,622.1 891.9,683.9 902.4,585.8 1016.1,713.8 946.9,664.8 988.6,656.5 894.2,599.1 849.6,592.5 939.3,624.1 1038,681.9 901.8,591.8 1009.5,663.2 831,609.1 899,646.9 993.5,706.3 932.8,694.2 880.4,573.3 963.7,696.1 886.7,619.3 946.1,631.1 956.9,688.4 887.1,576.6 893.7,599.6 952.5,639.1 817.1,603.2 913.6,656.3 839.8,599.8 1030.3,691.7 907.6,677.1 858,608.7 928.1,642.2 963.9,667.3 977.1,652.3 1008.2,679.3 875.8,564.6 1006.4,724.6 1039.8,746.3 1064.6,798.7 936.1,683.1 837.2,558.5 845.4,594.7 1060.1,734.1 1049.9,699.7 987.3,679.5 852.9,563.4 994.4,677.9 989.9,673.9 1027.6,709.5 944.8,699.4 1035.6,719 1075,773.9 1039.4,713.8 1025,679.9 911.5,635.9 1048.7,766.6 1040.8,729.8 1050.1,790.7 857.6,562.2 890.2,608.4 1027.9,747.1 961.1,646.8 904.5,639.1 1038.2,681.8 1038.2,740.9 1019.5,705 1075.7,784.3 915.7,688.8 932.5,721.1 942.9,690.7 989.3,654.1 848.7,631.5 820.9,602.1 1036.3,681.1 914.1,649.4 854.5,607.8 926.8,713.5 912.4,599.8 886.9,584.2 961.1,646 888.5,608.9 1034.7,678.8 857.7,657.3 993.3,663.5 837.1,570.6 864.2,553.7 891.2,595.6 998.7,717.1 877.9,577.9 869.2,558.8 995.1,679.6 860.3,577.8 905.1,616.4 1006.5,714.7 1025.7,698.7 1005,729.4 1059.9,737.4 1033.1,673.6 927.3,637 920.8,631.1 1056,719.1 907.8,660 931.7,653.8 1047.6,691 916.5,659.2 932.8,630.3 844.1,601.7 955.1,641.6 708.2,582.9 1011.5,695 799.3,590.6 991.3,685.3 1021.7,675.9 914.8,607.1 921.3,612.7 831.4,566.2 911.4,589 943.1,644.7 965.5,651.7 945.8,667.1 1057.7,760.3 1041.1,713.2 939.4,621.8 927.7,639.9 832.1,576.1 926.2,635.6 1077,746.8 935,628.6 893,601.6 1046.2,766.5 859.8,569.2 952.3,678.8 952.5,646.1 980.6,668.4 921.7,681.7 878.9,664.8 984,680.9 896.3,593.7 985.1,671.1 833.2,562.7 987.8,652.5 926.2,606.9 983.7,655.8 957.5,650.9 1027,669 1068.3,771.7 728.6,574.4 1044.8,703.6 707.9,563.1 872.7,643.8 948.5,701.8 1025.4,668.2 960.2,687.2 943.8,693.1 988.1,675 1037.9,725.8 875.7,610.9 1043.9,734.2 1041.8,684 871.6,578 950.3,642.6 839.9,605.2 922.7,604.8 1067.6,724.2 983.3,694.8 1002.7,673.7 873.5,623.9 859,667.3 935.6,639.3 920,691 846.4,606.3 854.6,560.3 874.7,629.7 961.2,649.2 933.2,696 822.2,589.7 1009.9,723 1026,686.9 1044.3,748.7 936.2,710.6 834,569.1 1003.7,692.3 1062.8,783.1 967.2,658.1 912.3,684.1 877.6,578.5 756.2,597.4 887.2,598.8 1060.3,719.5 1041.2,700.8 1033.5,761 935.2,707.7 889,587.5 1010.9,707.8 1055.3,726.1 1050.3,696 1062.5,720.4 982.4,696.2 1039.2,712.9 1009.6,674.8 970.5,653.4 854.6,617.8 937.4,698.3 831.8,564.7 998.6,673.7 854.5,606.7 938.2,632.5 875.5,621.8 1074.4,749 870.7,620.8 984,679 912.1,661.2 881.7,662.8 1051.6,786.3 934.8,625.2 977.7,651.2 1004.4,665.7 1040.2,683.2 1055.7,725.3 888.4,621.1 1075.1,794.8 915.2,616.1 848.3,592.1 864.6,554.8 922.6,601.6 898.1,621.6 1027,680.5 979.6,655.2 891.1,590.4 913.3,582.1 935.6,704.7 910.4,628.9 939.6,659.1 818.9,585.5 1040.2,680.4 946.6,633.5 722.8,587.1 792.4,605.5 968.8,662.2 1046.6,722.2 869.6,561 1029.6,675.3 894.8,650 944.4,649.1 865,550.8 912.6,632 1013.7,660.3 906,587.5 1038.6,701.1 930.8,678.9 954,635.3 1013.1,662.4 947,664.7 1036.6,747.5 969.5,661.4 847.2,563.1 1031.1,691.3 1015.1,678.4 866.3,593.1 1050,776 946.3,638.3 1077.2,756.5 894.3,591.7 874.6,560.6 904.1,605.9 1042.7,739.8 936.8,717.9 868,595.3 1067.9,724.3 861,554.1 860.8,590.1 957.3,711.5 899.8,686.7 865.6,551.3 968.6,685.6 959.1,653.5 931.3,711.5 957.1,646.8 860.6,604.9 962.5,671.6 875.9,592.6 988.3,667 834.1,595 865.2,663.6 897.6,617.8 1007.6,686.1 853.6,582 1068.8,752.9 838.7,625.3 964.8,654.4 1056.8,710.9 990,659.4 868.9,560 945.6,687.9 938.8,650.1 958.6,668.9 1007.8,727 1036.6,676.5 1018.6,664.8 998.9,652.5 863.2,572.4 864.6,616.9 952,669.7 1060.6,710.1 938.5,625.5 883.5,598.9 1009.6,705.9 933.7,685.3 906.9,598.3 918.8,676 1006.1,681.6 902.8,606.7 884.6,610 752.6,570.7 875.9,665.4 838.3,583 871.2,559.5 866.1,558.8 1057,749 885.5,592.6 876.3,581.1 1023.5,676.7 1012.4,685.9 752,581.3 985.4,656.2 886.2,581.8 1013,661.4 1025.3,699.9 977.5,663 990.7,687.2 975.5,684.6 1068.7,756.9 755.9,570.6 930.5,616.9 967.2,679.3 986.2,653.9 934.6,718.8 972.6,661 786.6,597.4 924,685.8 1055.2,705 912.6,627.4 772.4,605.1 879.1,614.4 982.2,689.4 1029,716.9 1005.1,657.3 874,667.7 948.5,640 901.4,607.6 901.3,584.9 931,633.9 825.2,610.2 861.8,551.4 1070.6,789.6 871.1,668 1037.7,682.7 1011.9,659.5 1023.8,684.3 874.5,681.3 909.9,627.9 1028,751.4 942.7,700.4 921.1,694.6 950,635.5 937.8,680.9 877.5,648.9 986,688.7 947.2,658 946.7,653.7 939.5,648.9 873.7,579.5 938.1,626.7 944.5,626.5 867.7,562.2 809.4,591.1 953.2,675.4 1050.9,716.7 948.8,636.3 877.9,565 1043.6,749.7 992.1,706.8 1004,729.1 1021.5,664.7 902.2,602.4 937.3,686.4 973.6,660 983.4,702.8 835.8,559.1 887.7,583.9 1022.3,734 867,550.6 917.4,586.7 953.8,713.4 922.2,634.6 962.2,644.1 1069.2,732.2 890.4,620.6 929.8,612.1 883.7,630.5 892.1,575.7 1000.9,656 867,556.4 1076.4,771.8 921.8,656.7 951,711.5 867.9,569.9 932.3,623.5 973,660.2 811.6,569.4 1003.3,696.1 998,658.4 923.1,608.8 990.6,654.6 1022.8,756.7 1026.6,720.9 954.5,657 942.9,656 899.2,619.1 851,553.9 884.4,685.5 956.8,708.1 994.8,697.7 929.7,658.7 794.1,576.4 915.1,583.7 859.1,555.2 1057.3,716.4 871.9,649.8 953,650.4 877.8,671.4 860.5,552.8 910,637.5 984.2,651.4 1031,784 1030,797 1031,810 1030,822 1045.5,795 1045,808 1069,836 1069,853 1070,862 1067,825 817,636 880,711 896,697 928,727 945,727 1063,801 1085,766.7 1086.3,765.4 1088.8,768.6 1079,750.6 1090.9,776.4 1085.8,768.1 1088.4,772.6 1088.8,769.1 1080.7,759.5 1079.9,758.1 1089.7,774.5 1082.5,763.8 1078.1,750.1 1085.3,760.7 1088.2,763.2 1092.4,767.7 1081.5,760.4 1090.4,774.9 1078.1,753.8 1079.8,757 1084.7,763.3 1083.6,759.4 1090.3,770.8 1079.3,753.2 1091.1,776.2 1086.4,759.9 1091.5,766.1 1088.3,763.5 1082,756.1 1087.6,768.5 1090.6,765.9 1086.9,767 1081.8,757.5 1083.2,762.7 1085.6,760 1082.1,761.2 1087.6,762.2 1085.2,762.1 1079.5,750.9 1090.6,770.4 1081.1,757.4 1085.8,759.4 1083.7,754 1085.5,758.3 1087,761.6 1084,765 1082,753.1 1080.6,752.7 1085.6,762 1079.5,756.1 1091.5,768.5 1080.9,757.9 1091.8,775.8 1078.2,754.4 1080.6,760.2 1086.1,764.3 1088.9,763 1089.5,773.3 1088.1,771.4 1078,750.7 1086.8,768.1 1083.5,760 1083.3,761.5 1088.1,768.5 1091.6,777.1 1083,755.7 1089.6,771.3 1084.4,757.1 1081.9,759.5 1082.5,752.7 1071,799.7 1073,814 1074.8,791.6 1073.1,789.7 1067.1,760.3 1069.1,778.2 1072.9,760.9 1074.6,768 1072.9,767.3 1068.6,764.5 1073.8,799.7 1072.3,813.4 1067.4,787.9 1069.6,778.2 1067.7,770.5 1069.8,784.8 1067.7,799.3 1067.9,761.1 1072.4,767.5 1072.5,770.3 1073.3,797.9 1067.6,771.9 1074.1,769.7 1069.9,776.4 1072,801.4 1073.7,779 1069.8,764.8 1075.2,815.9 1070.9,767.8 1067.3,805.2 1072.5,807.3 1068.9,800.3 1067.7,807.2 1072.9,769.2 1074.3,810.7 1071.9,781.1 1072.1,812.6 1075.2,768.4 1075,799.4 1072.3,769 1074.2,821.9 1075.5,820.4 1076.5,822.1 1078.5,821.4 1079.9,824.8 1082.5,822.7 1081.2,825.9 1083.6,826.9 1084.3,824.6 1084.6,824.2 1086.5,824.9 1088.4,825.7 1089.1,826.4 1089.9,824 1092.1,821.2 1092.3,818.4 1093.2,818.1 1094.6,816.1 1093.5,817.1 1094.5,817.1 1095.8,817.1 1095.8,812.6 1098.4,813.2 1098.3,812.1 1098.5,810.7 1097.5,812 1098.6,807.1 1100.8,810.5 1100.4,807.1 1102.7,807.4 1102.4,802.9 1101.7,803.1 1102.2,801.1 1102.7,803.2 1105.2,801.7 1103.2,796.8 1104.3,796.7 1107.6,794.3 1106,793.5 1108.8,794.7 1107.6,793.9 1109.1,792.3 1110,794.7 1111.4,796.3 1203.3,823.8 1218.9,837.5 1226.3,757.2 1286,911 1273.2,879.8 1285.5,911.3 1279.5,923 1218,835.6 1198.1,839.8 1200.7,845.6 1286.2,901.3 1264.9,895.3 1223,741.4 1232.7,726.2 1289.5,957.9 1203.5,822.4 1217.9,790.5 1241.1,856.9 1209,848.9 1196,832.6 1180.3,877.4 1214.2,832.7 1188.6,867.8 1190.8,866.8 1188.7,826.9 1282.4,883.3 1181.9,890.3 1280.8,909.9 1281.8,898.9 1185.1,856 1260.7,862 1210.3,850.2 1184.5,874.9 1253.8,837.6 1169.5,860.3 1271.8,871.1 1201.2,832.9 1271.6,901.2 1215.6,775.1 1263.9,860.8 1170.7,886.1 1258,830.6 1260.4,876.2 1245.1,869.9 1183.3,851.8 1211.3,836 1222.7,822.6 1204.5,844.4 1234.7,761.2 1260.4,875.6 1212.5,849.9 1184.8,891.9 1230.1,736.3 1263.9,890.8 1194.4,846 1265.5,863.5 1163.9,889.6 1174.1,864.2 1221.3,762.3 1207.6,818.4 1217.9,753.1 1220.9,746.5 1246.1,839.3 1186,835.2 1254.6,843.9 1275.8,900.8 1159.8,892 1211.8,832.7 1205.5,858.5 1236.4,754.6 1275.4,900.2 1278.2,905 1221.1,796.9 1279,868.9 1222.8,755.9 1201.8,827.3 1223.3,816.2 1182.8,888.8 1166.6,895 1221,789.7 1185.4,854.5 1176,856.4 1207.8,846.2 1181.9,850.2 1184.1,890.4 1263.6,854.9 1267.2,846.2 1198.7,867.7 1232.3,738.5 1279.2,912.5 1180.2,856.1 1208.5,825.3 1281.6,916.7 1164,894.1 1176.9,868.8 1261.8,825.9 1225.7,755.5 1203.9,833.4 1220.6,795.9 1253.2,846.2 1283.1,913.4 1227.5,741.1 1176.7,869 1184.8,857.2 1228.4,741.8 1196.1,836.8 1196,823.3 1217.6,746.4 1218.2,780.5 1244,825.6 1172.5,880.1 1273.7,870.6 1199.7,846.3 1174.4,841 1234.1,735 1197.1,872.1 1190.9,873.3 1166.6,886.7 1219.5,826.8 1207.6,851.5 1249,881.9 1207.1,864.4 1218.2,804.8 1171.8,894.7 1185.5,852.3 1251.1,838 1243.4,817.1 1281.3,897.9 1184.9,872.8 1255,878.6 1174.3,844.9 1271.5,909.3 1220.3,842.5 1272.2,912 1216.7,814.3 1188.1,885 1182.1,854.2 1248.8,879.8 1221.1,751.8 1229.3,748.1 1202.1,853.5 1195.8,848.5 1177.9,867 1282.6,897.8 1255.6,879 1283.2,936.6 1177.7,850.3 1226.3,735.2 1163.6,871.5 1201.2,845.1 1278,892.9 1285.6,914.2 1226.6,755.9 1227.3,723.8 1223.8,783.8 1193.6,852.4 1258,878.2 1228.5,733.3 1269.4,834.4 1191.2,852.8 1162.5,886.7 1217.1,798 1186.2,845.9 1226.6,779.3 1243.8,871.2 1261.7,859 1223.8,736.8 1172.6,883 1272,887.1 1218.5,744.1 1275.2,910.7 1192.4,824.6 1258.3,874.2 1219.6,845.3 1191.8,850.4 1288.8,951.4 1200.5,865.2 1198.7,836.4 1223.1,804.1 1236.1,763.5 1282.9,928.9 1196.1,853.3 1224.5,748.3 1267.8,876.1 1252.3,814.7 1285.4,944.9 1177.5,840.7 1190,877 1217,762.6 1193.5,842.9 1233,757.4 1164.4,872.2 1209.9,864.8 1261.1,821 1225.4,724.9 1246.4,844.1 1185.3,875.3 1234.5,741 1250.3,812.9 1214.1,804.2 1201.6,829.1 1181.7,874.7 1263.8,832.1 1217.4,827.9 1222,748.4 1227.3,730.6 1170.4,870.4 1253.5,879.7 1238,772.2 1192.4,844.4 1198.4,858.2 1176,842.4 1260.8,836.3 1195.9,827.5 1200.2,857.4 1219.8,806.4 1232.1,749.5 1197.1,867.3 1271.7,893.1 1180.3,891.3 1176.5,839.1 1216.1,775.7 1180.5,885.4 1216.3,826.1 1219.6,808.5 1206.1,871.7 1277.6,915.3 1240,856.9 1173.6,848.2 1185.8,880.9 1187.5,883.9 1165.6,889.4 1219.3,810.1 1256.4,853.1 1257,829.2 1176.1,890.6 1190.3,842.6 1191.6,851.1 1282.5,899.6 1282.5,926.1 1219.9,840.6 1243.9,812.5 1168.8,862.3 1271.7,892.6 1225.1,735.4 1227,723.8 1243.8,854.9 1260.6,840.3 1187.1,855.9 1202.9,867.7 1244,860.5 1217.8,819.6 1218.5,758.4 1193,824.1 1232.1,719.8 1248,873.9 1221.9,825 1224.1,750 1176.7,895.5 1201.9,857.9 1172.3,847.2 1218.7,829.3 1205,840.5 1246.9,856.1 1268,896.6 1283.9,896.2 1284.3,930.1 1204.1,848.9 1242.9,827 1233.3,725.4 1178,886.5 1265.9,883.9 1173.7,851.7 1165.5,896.8 1256.5,867.1 1172.4,880.9 1219.1,837.1 1200.5,822.3 1212.5,826.4 1232.5,719.9 1196.2,844.2 1173.2,861.7 1243,857.5 1229.9,738.3 1266.3,828.8 1182.7,894.9 1243.7,854.1 1168.9,874.7 1193.8,849.8 1240.4,858.8 1167.6,896.8 1209.9,863.1 1174.7,897.2 1255.6,855.2 1234.6,729.1 1178.1,859.7 1173.3,853.9 1190.4,823.8 1161.7,876.7 1267.3,866.2 1192.6,833.7 1226.5,727.7 1236.3,735.8 1216.5,778.1 1194.8,882.2 1176.4,843.9 1211.3,863.4 1195,865 1276.5,891.8 1179,896.9 1201.6,841.8 1215.9,819.3 1282.7,917.1 1196,822 1186.3,851.5 1169.8,865.1 1250.1,841.4 1238,744.6 1216.2,845.9 1261.3,850.5 1268.2,854.1 1186.3,852.2 1247.5,847.5 1188.7,872.7 1195,869.7 1187.7,840.8 1262.6,838.9 1182.8,884.2 1198,826.2 1205.1,835.3 1179.2,900.4 1218.6,830.9 1173.8,858.9 1190.8,860.8 1271,839.9 1223.6,730.5 1198.8,844 1272.8,914.5 1278.5,905.8 1186,840.7 1199.5,862.8 1216.6,759.6 1203.8,839.5 1224.1,776.3 1280.2,887.5 1183,862.3 1283,901.7 1192.4,827.3 1207.4,840.4 1287,938 1204,839.6 1180,894 1214.5,798 1225.4,748.5 1191.4,850 1220.1,790.3 1255.5,874.6 1209.1,852.6 1174.4,852.4 1207.2,867.5 1230.4,757.7 1177.9,899.3 1184.6,833.8 1211.5,816.5 1264.8,861.1 1212.7,843.4 1262.8,883.2 1241.4,858.7 1251.9,859.4 1157.2,887.1 1217.1,826.6 1223.3,753.8 1223.7,800.7 1242.4,844.7 1213.3,833.2 1266.6,863.8 1225.9,722.4 1205.2,868.7 1190,844.5 1257.9,858.2 1202.2,849.2 1248.8,858.1 1190.4,880.3 1242.8,808.6 1254.2,825.7 1235.2,730.1 1249.1,819.2 1197.8,863.2 1196.9,822.6 1247.7,844.8 1219,793.4 1277.9,894.2 1199.1,824.7 1275.2,864.9 1182.1,843.8 1273.4,851.6 1280.5,915.9 1211.6,855.7 1203.1,848.6 1236.7,759.7 1218,795.4 1185.7,864.1 1222.5,776.1 1221.9,762.5 1268.9,903.8 1217.7,778.8 1227.9,750.6 1187.3,887.7 1207.2,860.3 1202.7,839.8 1257.8,851.4 1266.1,872.6 1221.1,796.4 1264.6,894.8 1266,844.2 1229.4,726.2 1170.3,854.6 1182.3,870.7 1284.1,923.5 1241.1,845.2 1177.7,894.7 1235.1,766.2 1220.1,762.8 1196,847.9 1222,798.5 1232,721.3 1216.5,846.5 1214.7,858.6 1273.1,910.4 1287.1,918.8 1214.3,809.8 1246.9,849 1276.7,895.8 1215,778.8 1219.9,842.9 1178.3,873.8 1228.9,743.5 1283.7,888.5 1190,840.6 1218.6,806.9 1246.4,849.3 1194.1,843.1 1214.4,838.5 1233.8,749.3 1182.5,880.3 1219.7,797.9 1250.9,822.9 1224.7,724.3 1287.2,913.3 1235.4,759 1285.8,898.9 1212.6,811.6 1216.6,807.1 1283.9,928.8 1195.8,869.2 1206.5,823.6 1285.4,911 1211.1,861.9 1256.8,832 1230.4,726.3 1264.5,890.2 1228.9,770.5 1234.3,764.3 1283.2,903.5 1183.7,865.5 1235.9,752.8 1223.2,757.4 1191.4,825.1 1275,850 1194.3,865 1202,850.3 1204.2,851.4 1195.2,827.5 1195.2,848.9 1217.7,787.5 1283.2,913 1247.8,864.8 1286.6,944.3 1242.4,829.2 1170.6,894.1 1173.4,853 1263.2,844.6 1249,862.4 1232.4,756.5 1284.3,913 1281.4,905.4 1270.7,899.9 1214.8,829.9 1288.5,952.6 1219.8,825.8 1229.5,771.3 1269.9,878.2 1170,873.5 1232.4,742.7 1215.7,790.5 1223.3,785.1 1234.1,746.4 1199.7,855.3 1173.9,859.7 1222.4,798.7 1222.4,799.1 1229.4,745.3 1284.4,899.7 1278.8,903.3 1208.2,820.6 1203.9,844.6 1211.5,843.5 1286,933.6 1192.3,829.6 1197.2,857 1262.9,863.5 1273.5,846 1268,834.1 1260.2,881.7 1173,888.9 1183.7,870.7 1174.4,854.7 1213.8,795 1260,835.4 1223.4,810.1 1227.6,724.7 1273.2,880.2 1168.4,898.1 1213.4,825.6 1184.8,847.1 1264,839.2 1287.5,937.6 1193.1,874.1 1194,821.4 1198.5,866.1 1202.9,828.4 1185.7,842.6 1206,830.1 1212.2,864.3 1167.9,897.4 1216.5,827.7 1241.8,865 1285.9,938.9 1216.6,840.7 1284,895.8 1288.1,954 1220.3,741.5 1184.8,881.9 1287,925.7 1211.3,824.6 1180.7,899.5 1180.1,887 1271,875.9 1166,878.3 1229.8,753 1163.2,896.7 1274.2,904.9 1187.5,881.1 1206,834.1 1169.5,854.7 1172.3,894.8 1272.9,860.6 1225.2,732.8 1236.3,739.4 1286.5,938.9 1232.1,739.7 1202.4,870.3 1217.2,774.7 1271.3,873.6 1187.4,850.2 1221.8,809.2 1220.1,824 1280.8,912.7 1219.2,837.2 1264.3,842.9 1204.9,828.7 1221.4,760.7 1193.6,856 1189.9,881.3 1183,871.8 1183.5,832.7 1190.1,855 1203.1,836.5 1183.8,880.3 1271.7,859.5 1207.4,835.5 1194.3,851.6 1175.6,870.1 1198.4,823.6 1233.7,720.2 1182.1,893.9 1220.6,792.3 1215,847.6 1176.6,878.4 1242.1,837.3 1225,741.8 1176.7,844.6 1255.4,842.9 1284,888.7 1229.7,727.3 1227.2,737.5 1277.7,912.8 1263.2,874.3 1258.3,876.5 1227.2,759.2 1202.7,823.1 1219.3,748.6 1162,888.7 1163.6,873.6 1266,866.4 1218.1,760.1 1267.6,864.8 1185.7,862.6 1164.9,891.9 1191.6,837.3 1241.4,853.7 1212.7,812.6 1228.3,742.4 1272,895.6 1215.8,762.9 1264.1,829.4 1231.8,757.1 1170.2,897.7 1212,851.2 1219.7,832.5 1218.3,814.1 1253,828.9 1168.2,895 1219.3,811.2 1185.6,848 1181.2,840.9 1253.2,869.1 1218.5,806.7 1188.4,857.1 1213.8,850.7 1219.9,770.2 1178.1,852.6 1183.5,836.7 1220.3,770.9 1174.3,842.1 1219.9,755 1278.9,915.2 1196.9,871.8 1247.9,844.5 1277.9,890.7 1192,832 1211.9,825.2 1183.4,894.6 1214.2,836.1 1230.9,720.4 1269.6,886.6 1229.7,763.8 1168.1,883.7 1225,809.1 1274.2,848.9 1277.5,901.8 1211.7,836.2 1281.4,902.6 1184.8,829.5 1262.5,823.1 1214.9,821 1173.4,855.2 1209.3,838.1 1235.7,736.7 1169.1,877.5 1225.3,734.1 1283.9,917.3 1166.6,899.4 1234,744.1 1257.4,868.1 1219.9,748.4 1214.4,843.9 1182.4,831.1 1249.6,816.5 1223.1,823.2 1210.1,848 1220.1,784.6 1197.6,868.4 1269,868.2 1228.5,729.8 1284.9,895.7 1161.7,892 1277.1,917.4 1226.7,759.3 1217.4,787.7 1213,845 1216.8,810.4 1257,821.3 1222,787.8 1233.3,736.2 1222.7,781.4 1182.9,861.7 1177.5,863.3 1201.3,832.9 1223.4,766.6 1275.7,868.1 1171.6,858 1183,853.8 1217.9,797.9 1180.8,847.3 1264.5,838.1 1186.3,832.6 1191.9,867.8 1190.2,870.8 1187.8,838.1 1278.2,921.7 1232.3,751.4 1234.3,723.2 1186.8,846.2 1184.6,860.9 1264.2,885 1272.2,849.9 1202.7,844.2 1168.9,895.4 1163,896.2 1231.9,766.9 1218.4,845.8 1241.5,846 1199.1,822.1 1221.3,776 1218.8,772.8 1243.1,832 1246.4,865.5 1287.1,953.6 1187.6,844.2 1179.6,898.4 1171.6,877.7 1219.4,810.1 1260.4,859.2 1276,905.1 1194.1,845.7 1191.6,854.4 1190.1,853.3 1170.6,861.8 1184.3,866.9 1169.8,879.3 1187.6,877.4 1216.4,790.8 1255.3,822 1228.9,720.1 1262,885.9 1186.9,838.3 1245.1,827.7 1219.7,765.8 1163.6,893.7 1227.4,730.4 1220.7,738.9 1258.5,851.2 1235.5,755.8 1282,898.2 1275.6,894.1 1285.9,916.6 1262.3,824.8 1172,886.4 1235.2,731.1 1219.9,783.9 1187.2,856.7 1226.6,762.9 1230.7,721.4 1201.6,845.5 1202.8,858.1 1219,839.4 1189.3,886.4 1273.8,848.4 1208.6,823.2 1269.7,859.3 1270.2,902.3 1236.2,737.4 1227.5,776.1 1271.5,839.3 1198.7,839.2 1243.5,842.9 1278.4,912.6 1218.4,760.7 1169.5,865 1193.7,847.3 1231.6,753.4 1246.9,839.5 1173.7,899 1171.6,882.9 1221.1,785.6 1268.2,856 1162.4,897.9 1224.4,805.5 1251.7,816.5 1207.4,862.4 1197.2,860.1 1244.8,864.7 1200.3,856.3 1287.9,950.7 1227.7,742.6 1217.4,760 1180.2,875.5 1260.2,825.4 1201.2,861.5 1186.9,835.1 1217.2,771.6 1162.3,895.8 1214.2,791.3 1217.7,805.9 1216.9,764.4 1221.5,802.9 1231.2,757.5 1221.7,746.6 1229,739.1 1272.9,869.3 1244.1,811.9 1191.2,826.8 1174.8,855.5 1217.1,810.9 1205.8,837.7 1213.4,851.5 1216.4,834.4 1256.7,835.9 1267.7,887.8 1160.7,893.8 1192.7,875.1 1281.1,907.9 1244.3,827.1 1241.2,796.3 1215.3,806.6 1188.3,845.5 1199.4,835.7 1234.8,729.2 1243.6,841.4 1202.5,825.2 1198.7,856.5 1280.8,916.7 1177.3,888.7 1216.7,832.1 1215.7,783 1234.9,726.3 1231,719.8 1186.9,842.1 1282.9,911 1219.3,789.3 1176.9,875.5 1285,926.1 1180.4,871.5 1267.1,882.8 1193.2,862.1 1282.4,906.3 1178.5,859.4 1241.5,857 1183.6,869.4 1221.4,737.3 1198.5,828.8 1161.5,882.7 1189.4,868.8 1253.2,857.5 1224.9,758.6 1217.9,752.3 1206.6,852.6 1236.2,755.3 1226.5,735.9 1250.8,872.9 1211.3,813.1 1241.1,855 1216.8,755.9 1182.2,839.2 1182.3,844.1 1254,863.5 1234.8,752 1194.3,835.6 1237,721.2 1284.2,909.4 1217.7,803.8 1243.1,872.5 1206.7,832.2 1177.5,895.7 1217.5,748.5 1216.2,807.7 1168.5,866.1 1198.1,834.6 1215.5,778.5 1205.6,862.7 1261.2,824.8 1223.2,829.4 1183.5,839 1191.2,838.9 1238.1,734.1 1186.9,834.4 1196.2,854.1 1181.9,888.2 1227,729 1225.9,724.1 1245.3,848.6 1178.4,846.8 1214.6,857.8 1259,883.1 1186.2,872.8 1166.2,882.7 1221.7,810.2 1218.3,803.4 1186,869 1286,934.2 1208.3,833.8 1201.3,866.3 1223.9,732.7 1187.1,876.9 1282.6,914.1 1193.4,821.7 1232.2,720.4 1188,831.9 1196.9,874.8 1175.4,879 1190.9,879.4 1256.3,830.5 1250.6,882 1257.9,851.2 1170.3,879.9 1206.7,826.9 1258.4,840.6 1184,844.1 1261.6,876.6 1187.8,838.4 1197.2,860 1189.9,855.2 1283,923.2 1217.3,821.2 1218,787.4 1285.8,920.4 1217.8,845.5 1188.6,871 1184.9,844.5 1192.3,861.7 1173.6,871.5 1273.6,882.5 1191.7,830.3 1232.9,751.8 1205.8,853.4 1191.9,828.1 1236.5,737.1 1185.8,851.8 1276.4,879.6 1246.5,808.7 1208.1,854.6 1210.7,843.7 1205.3,826.2 1217.9,775.4 1237.8,755.4 1203.9,838.9 1180.3,899.6 1250,882.6 1290.1,941.3 1181.9,848.5 1218.4,769.3 1284.5,940.2 1213.7,835.6 1202.1,828.4 1190,825.3 1196.1,850.8 1275.9,860.8 1266.7,846.8 1172.3,861.3 1191.9,852.5 1199.4,825.4 1237,769.3 1191.2,858 1279.4,894.6 1175.6,853.6 1180.8,888.4 1253.2,851.3 1176.3,851.4 1186,873.9 1218.3,793.9 1237,744.2 1258.3,860.5 1226.2,730.8 1191.3,872.9 1281.3,897.1 1267,873.2 1221.9,809.7 1274.1,873.1 1272.4,861.5 1195,842.5 1286.5,947 1216.5,853.5 1281.2,905.6 1218.3,846.1 1169.1,857.5 1217.5,851.5 1195.4,833.5 1218.8,791.5 1271.8,861 1171,876 1228.4,767.5 1194.5,823.7 1187.7,860 1212.2,810.9 1195,876.3 1204.3,843.8 1204.5,834.5 1232.3,746.7 1212.5,814.1 1197.2,844.3 1166.1,885.6 1191.8,831.9 1234.4,753.8 1187.1,855.4 1190.3,844.8 1174.5,862.3 1184.8,832.1 1201.3,849.7 1219.5,807.7 1183.6,846.9 1222.2,825 1233.2,729 1169.8,865.6 1189.9,876.4 1226.1,756.8 1261.2,838.8 1241.8,841.8 1174.5,867.4 1172.6,886.5 1217.1,767.8 1222.3,754.5 1195.8,828.9 1226.9,751 1208.9,865.8 1288.1,936.7 1227.5,725.4 1199.8,841.3 1218.6,757.2 1243.9,803.1 1266.9,846.6 1235.9,728.5 1221,795.1 1195,838.1 1282.7,926.1 1171.7,852.3 1223.7,803.9 1232.1,766.1 1194,849.4 1278,908 1222.4,746.4 1207.3,833.6 1261.8,837.4 1170.9,893.8 1183.9,884.1 1194.6,881.1 1219.7,826.9 1191.3,848.7 1247.2,863 1190.8,875.2 1285.5,935.6 1221,761.2 1200.5,867.7 1185.9,877.9 1275.1,896.6 1279.1,903.8 1220.7,838.6 1217.3,764 1189,848.4 1200.8,833.1 1274,850.6 1185.7,866.2 1182.5,836.4 1220.7,775.5 1193.7,858 1220.7,745 1192.8,824.3 1285.1,930.6 1238.5,764.8 1177.7,853.3 1214.8,810.7 1248.7,843.8 1247.8,809.8 1268.1,866.9 1259.3,860.8 1192.7,871 1267.6,851.2 1177.7,864 1184.4,848.4 1198.8,848 1252.9,819.4 1225.4,726.6 1209.9,856.8 1276.5,917.9 1222.2,734.2 1275.7,861 1254.7,840.2 1201.4,850.9 1218.4,768 1254.9,876.7 1204.1,822.8 1271.2,897.6 1190.9,840.8 1237.5,750.7 1179,861.4 1224.1,780.5 1233.9,746.5 1223.2,818.2 1208.2,855 1252.9,868 1207.8,821.4 1162.9,888.7 1191.7,878.6 1178,872.3 1196.3,860.1 1164.5,885.3 1266.5,847.3 1173.1,901.8 1274.6,903.7 1273.4,909.7 1248.9,818 1244.3,864.1 1190.1,858.4 1167.3,890.8 1190.7,826.8 1183.3,880.7 1223.6,756.5 1285.6,927.8 1223.9,812.7 1198.6,857.3 1256.8,850.8 1220.3,812.7 1289.6,940 1218.8,817.2 1233.8,747.8 1267.5,845.3 1215.4,800.3 1204.1,835.2 1270.6,860.1 1190.5,829.8 1216.2,815.1 1177.7,890.3 1171.9,847.2 1217.5,773.2 1244.8,834.6 1214,851.4 1223.5,800 1215.7,841.8 1280.2,898.1 1197.3,860 1282.9,934.1 1230.6,763.6 1275.1,916.2 1190.5,847.2 1183.3,881.9 1256.6,859.7 1176.4,901.9 1268.2,860 1242.9,864.2 1189.7,849.5 1273.1,907.1 1243.8,803.5 1277.2,902 1289.5,936.8 1200.5,826.1 1217.1,758.1 1289.2,943.8 1263.1,831.7 1200.7,840.7 1186.3,875.9 1279.5,869.9 1171.2,851.8 1167.4,869.1 1230.8,733.6 1226.6,756.6 1262.5,854 1211.2,819.8 1167.5,865 1179.3,858.5 1257.8,842.5 1234.4,754.2 1176.7,878.7 1206.3,850.3 1183.2,845.1 1199,864.6 1200,832.1 1227.7,758.4 1220.7,827.7 1249,847.6 1186.8,891.1 1234.2,715.9 1285.2,935.7 1213.1,851.9 1200,872.9 1288.9,926.6 1181.5,880.7 1221,738.9 1218.7,802.8 1268.5,897.4 1191.3,879.8 1259.2,828 1271.6,840.9 1181,850.2 1245.2,860.7 1268.2,832.3 1179.6,855.4 1177.1,857.2 1219.5,770.2 1176.6,866.9 1259.5,826.8 1242.1,843.6 1216.1,797.8 1179.9,875.1 1175.8,898.7 1269.5,869 1246.7,807.1 1218,813.2 1184.2,838.1 1168.1,899.5 1168.4,899.4 1181.3,847.9 1269,848.5 1196.2,854.5 1224.2,756.3 1257,854.2 1267.4,848.6 1242.8,829.1 1270.9,900.8 1215.1,817.4 1210.3,840.5 1225.2,783.8 1220.1,747.2 1204,824.8 1215.5,774.5 1255.2,828.2 1187.1,843 1229,731.4 1221.4,757.2 1169.2,895.8 1202.1,871.5 1184.2,864.7 1188.9,884.4 1252.2,846.8 1281.3,870.5 1166,873.8 1257.8,879.9 1213,841.6 1177.9,852.9 1245.2,823.8 1209.7,837.2 1181.5,843.6 1218.5,782.2 1241.9,858.6 1242.8,855 1168,881 1187.1,854.5 1174.7,864.6 1169.2,867.5 1185.3,866.7 1233.6,755.4 1188,860.7 1210.9,835.7 1217.4,852.1 1220.8,817.3 1198.3,859.8 1180,856.9 1213.7,817.1 1217,771.1 1226.2,769 1228.7,728.7 1288.3,937.2 1276.8,906 1280.1,923.8 1287.7,944.5 1282.7,909.5 1286.4,937.9 1284.5,945.2 1282.7,911.1 1275.6,889.6 1280.9,895.9 1289.6,942.8 1279.5,915 1285.7,933.5 1274,892.8 1276.9,911.3 1278.9,910.2 1275.1,898.9 1290,959.5 1285.4,920 1278.7,899 1288.9,957.8 1289.9,943.2 1283.1,923.1 1276.9,916.2 1285.9,951.6 1287.9,941.5 1277.3,904.3 1291.8,963.6 1277.5,912.9 1284.8,945.1 1276.5,896.1 1291,955.5 1283.3,939.4 1291.3,963.7 1280.5,924.7 1285.1,951.8 1282.4,935.8 1288.1,952.2 1282,930 1279.5,907.1 1284.8,928.3 1289.4,940.9 1287,936.4 1288.9,956 1277.2,892 1281.9,911.2 1277.7,918.4 1287.7,940 1283.9,912 1286.2,953.5 1283.5,926.7 1272.3,888.4 1284.2,909.7 1281.6,906.7 1280.6,912.5 1290,960.2 1285,928.1 1286.2,948.2 1283.7,913.5 1281.3,932.9 1288.7,948.7 1287.8,940 1284.3,920.3 1278.5,892.8 1289,953.5 1287.3,930.8 1290.4,958.7 1285,944.3 1288.6,946.7 1290,957.9 1279.2,914.7 1284.2,940.2 1286.5,953 1288.9,935.6 1281.3,913.1 1286.9,955.3 1284.6,941.8 1289.7,960.7 1287.5,950.8 1287.5,960.3 1273.9,896.1 1274,897.3 1283.7,940.3 1283.1,911.8 1286.5,943.6 1284.6,919.5 1276.2,914.5 1285.4,939.1 1286.9,936.1 1285.8,936.4 1284.1,922.4 1285.4,928.7 1279.2,924.3 1281.8,908.9 1287.4,948.8 1282.5,925.9 1280,913.1 1273.8,893.3 1283.6,937.3 1285.9,936.2 1270.1,891.5 1286.3,937.9 1281.4,921.1 1285.6,943.6 1286.1,942.1 1288.2,944.6 1289.7,964.4 1283.3,939.1 1288,944.1 1281.3,908.4 1275.5,907 1288.6,953.6 1281,925.9 1286.1,924 1281.5,906.7 1286.4,945.8 1283.2,929.1 1280.8,907 1277,897.1 1278.1,892.4 1282.4,904.1 1284.9,933.6 1270.4,892.6 1282.4,929.5 1289.3,959 1288.8,961.4 1278.2,896.7 1285.5,929.6 1287.7,954.9 1285.1,940.2 1287.1,957.2 1282.1,910.7 1287.3,958 1288.7,951.9 1287,932 1277.9,906.7 1281.6,917.3 1284.5,945.9 1280.6,916.8 1277.5,912.2 1280.6,927.1 1284.8,919.4 1279.2,909.9 1276,908.7 1281,924.8 1280,908.2 1288.8,945.4 1278.4,890.9 1286.4,945.8 1282.6,918.6 1279.3,903.9 1289,950.1 1289.3,961.4 1282.3,906 1279.9,893.8 1285.7,921.5 1289,952.6 1279.5,894.6 1283.1,921.4 1285,947.5 1278,911.3 1281.4,918.7 1276.6,911.5 1282.2,925.7 1287.2,941.5 1276.4,908.7 1287.9,955.9 1290.8,954.1 1289.6,948.9 1271,891.4 1265.5,921.8 1267,936.3 1261.8,959.8 1264.5,971.8 1260,991.8 1264.5,995.3 1261.5,1010.8 1207,889 1209,896 1267,826 1264,836 1268,845 1223.6,826 1232.7,821 1236,861 1231,800 1234,812 1230.5,838 1233,848 1235.5,790 1229,852 1238,873"/>
</g>
<path d="M353.00 1016.0v-12.0M353.00 59.0v12.0M460.00 1016.0v-12.0M460.00 59.0v12.0M537.00 1016.0v-12.0M537.00 59.0v12.0M595.00 1016.0v-12.0M595.00 59.0v12.0M644.00 1016.0v-12.0M644.00 59.0v12.0M684.00 1016.0v-12.0M684.00 59.0v12.0M720.00 1016.0v-12.0M720.00 59.0v12.0M751.00 1016.0v-12.0M751.00 59.0v12.0M779.00 1016.0v-20.0M779.00 59.0v20.0M962.00 1016.0v-12.0M962.00 59.0v12.0M1069.00 1016.0v-12.0M1069.00 59.0v12.0M1145.00 1016.0v-12.0M1145.00 59.0v12.0M1204.00 1016.0v-12.0M1204.00 59.0v12.0M1252.00 1016.0v-12.0M1252.00 59.0v12.0M1293.00 1016.0v-12.0M1293.00 59.0v12.0M1328.00 1016.0v-12.0M1328.00 59.0v12.0M279.0 978.00h12.0M1349.0 978.00h-12.0M279.0 932.00h12.0M1349.0 932.00h-12.0M279.0 900.00h12.0M1349.0 900.00h-12.0M279.0 875.00h12.0M1349.0 875.00h-12.0M279.0 854.00h12.0M1349.0 854.00h-12.0M279.0 837.00h12.0M1349.0 837.00h-12.0M279.0 822.00h12.0M1349.0 822.00h-12.0M279.0 808.00h12.0M1349.0 808.00h-12.0M279.0 796.00h20.0M1349.0 796.00h-20.0M279.0 718.00h12.0M1349.0 718.00h-12.0M279.0 672.00h12.0M1349.0 672.00h-12.0M279.0 640.00h12.0M1349.0 640.00h-12.0M279.0 614.00h12.0M1349.0 614.00h-12.0M279.0 594.00h12.0M1349.0 594.00h-12.0M279.0 576.00h12.0M1349.0 576.00h-12.0M279.0 561.00h12.0M1349.0 561.00h-12.0M279.0 548.00h12.0M1349.0 548.00h-12.0M279.0 536.00h20.0M1349.0 536.00h-20.0M279.0 458.00h12.0M1349.0 458.00h-12.0M279.0 412.00h12.0M1349.0 412.00h-12.0M279.0 379.00h12.0M1349.0 379.00h-12.0M279.0 354.00h12.0M1349.0 354.00h-12.0M279.0 334.00h12.0M1349.0 334.00h-12.0M279.0 316.00h12.0M1349.0 316.00h-12.0M279.0 301.00h12.0M1349.0 301.00h-12.0M279.0 288.00h12.0M1349.0 288.00h-12.0M279.0 276.00h20.0M1349.0 276.00h-20.0M279.0 198.00h12.0M1349.0 198.00h-12.0M279.0 152.00h12.0M1349.0 152.00h-12.0M279.0 119.00h12.0M1349.0 119.00h-12.0M279.0 94.00h12.0M1349.0 94.00h-12.0M279.0 73.00h12.0M1349.0 73.00h-12.0" stroke="#000" stroke-width="4.15" fill="none"/>
<rect x="279.0" y="59.0" width="1070.0" height="957.0" fill="none" stroke="#000" stroke-width="4.15" stroke-linejoin="miter"/>
<text x="152.5" y="299.0" font-size="59.0">10</text><g style="will-change:transform"><text x="226.7" y="276.0" font-size="41.3">2</text></g>
<text x="151.5" y="558.0" font-size="59.0">10</text><g style="will-change:transform"><text x="225.5" y="536.0" font-size="41.3">1</text></g>
<text x="150.5" y="819.0" font-size="59.0">10</text><g style="will-change:transform"><text x="224.6" y="796.0" font-size="41.3">0</text></g>
<text x="729.7" y="1091.0" font-size="59.0">10</text><g style="will-change:transform"><text x="803.9" y="1068.0" font-size="41.3">2</text></g>
<text x="554.3" y="1191" font-size="59.0" textLength="437.9">Frequency (cm</text>
<g style="will-change:transform"><text x="991.9" y="1169.2" font-size="41.3">−1</text></g>
<text x="1054.3" y="1191" font-size="59.0">)</text>
<text transform="translate(104 723.9) rotate(-90)" font-size="59.0" textLength="368.9">Lifetime (ps)</text>
<rect x="1086.2" y="84.1" width="237.85" height="150.7" fill="#fff" fill-opacity="0.8" stroke="#858585" stroke-width="2"/>
<circle cx="1131.4" cy="125.4" r="5.45" fill="none" stroke="#1f77b4" stroke-width="2.4"/>
<path fill="none" stroke="#ff7f0e" stroke-width="2.6" d="M1131.4 183.6l-5 10h10z"/>
<text x="1177.5" y="143.1" font-size="49">300K</text>
<text x="1177.5" y="206" font-size="49">500K</text>
</svg></body></html>
